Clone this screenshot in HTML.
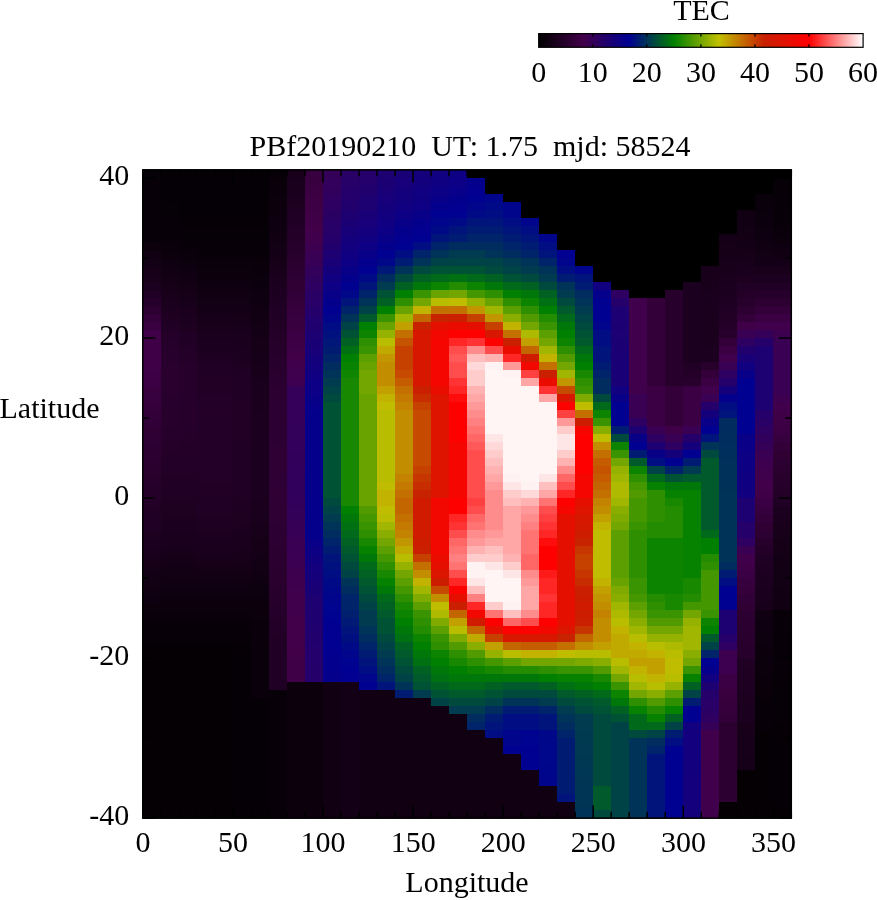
<!DOCTYPE html><html><head><meta charset="utf-8"><title>TEC</title><style>html,body{margin:0;padding:0;background:#fff}svg{display:block}text{font-family:"Liberation Serif",serif;font-size:30px;fill:#000}svg{will-change:transform}</style></head><body>
<svg width="877" height="900" viewBox="0 0 877 900">
<rect width="877" height="900" fill="#fff"/>
<g shape-rendering="crispEdges">
<rect x="142.1" y="169.2" width="649.9" height="649.5" fill="#000" shape-rendering="geometricPrecision"/>
<rect x="143" y="170" width="18" height="8" fill="#060007"/>
<rect x="143" y="178" width="18" height="8" fill="#070007"/>
<rect x="143" y="186" width="18" height="32" fill="#070008"/>
<rect x="143" y="218" width="18" height="8" fill="#080008"/>
<rect x="143" y="226" width="18" height="16" fill="#080009"/>
<rect x="143" y="242" width="18" height="8" fill="#0c000d"/>
<rect x="143" y="250" width="18" height="8" fill="#100012"/>
<rect x="143" y="258" width="18" height="8" fill="#120015"/>
<rect x="143" y="266" width="18" height="8" fill="#150018"/>
<rect x="143" y="274" width="18" height="8" fill="#18001b"/>
<rect x="143" y="282" width="18" height="8" fill="#1c001f"/>
<rect x="143" y="290" width="18" height="8" fill="#200024"/>
<rect x="143" y="298" width="18" height="8" fill="#26002b"/>
<rect x="143" y="306" width="18" height="8" fill="#2d0032"/>
<rect x="143" y="314" width="18" height="8" fill="#33003a"/>
<rect x="143" y="322" width="18" height="8" fill="#390040"/>
<rect x="143" y="330" width="18" height="40" fill="#3f0047"/>
<rect x="143" y="370" width="18" height="8" fill="#3d0045"/>
<rect x="143" y="378" width="18" height="8" fill="#3b0043"/>
<rect x="143" y="386" width="18" height="8" fill="#390040"/>
<rect x="143" y="394" width="18" height="8" fill="#37003e"/>
<rect x="143" y="402" width="18" height="8" fill="#35003c"/>
<rect x="143" y="410" width="18" height="8" fill="#33003a"/>
<rect x="143" y="418" width="18" height="8" fill="#320038"/>
<rect x="143" y="426" width="18" height="8" fill="#300035"/>
<rect x="143" y="434" width="18" height="8" fill="#2e0034"/>
<rect x="143" y="442" width="18" height="8" fill="#2d0032"/>
<rect x="143" y="450" width="18" height="8" fill="#2c0031"/>
<rect x="143" y="458" width="18" height="8" fill="#2a002f"/>
<rect x="143" y="466" width="18" height="8" fill="#29002e"/>
<rect x="143" y="474" width="18" height="8" fill="#28002c"/>
<rect x="143" y="482" width="18" height="8" fill="#26002b"/>
<rect x="143" y="490" width="18" height="8" fill="#250029"/>
<rect x="143" y="498" width="18" height="8" fill="#240028"/>
<rect x="143" y="506" width="18" height="8" fill="#220026"/>
<rect x="143" y="514" width="18" height="8" fill="#210025"/>
<rect x="143" y="522" width="18" height="8" fill="#200024"/>
<rect x="143" y="530" width="18" height="8" fill="#1e0021"/>
<rect x="143" y="538" width="18" height="8" fill="#1c001f"/>
<rect x="143" y="546" width="18" height="8" fill="#1a001d"/>
<rect x="143" y="554" width="18" height="8" fill="#18001b"/>
<rect x="143" y="562" width="18" height="8" fill="#160018"/>
<rect x="143" y="570" width="18" height="8" fill="#140016"/>
<rect x="143" y="578" width="18" height="8" fill="#120014"/>
<rect x="143" y="586" width="18" height="8" fill="#100012"/>
<rect x="143" y="594" width="18" height="8" fill="#0e0010"/>
<rect x="143" y="602" width="18" height="8" fill="#0c000d"/>
<rect x="143" y="610" width="18" height="8" fill="#0a000b"/>
<rect x="143" y="618" width="18" height="8" fill="#080009"/>
<rect x="143" y="626" width="18" height="8" fill="#070008"/>
<rect x="143" y="634" width="18" height="8" fill="#060007"/>
<rect x="143" y="642" width="18" height="8" fill="#050006"/>
<rect x="143" y="650" width="18" height="168" fill="#040004"/>
<rect x="161" y="170" width="18" height="8" fill="#040004"/>
<rect x="161" y="178" width="18" height="8" fill="#040005"/>
<rect x="161" y="186" width="18" height="16" fill="#050006"/>
<rect x="161" y="202" width="18" height="16" fill="#060007"/>
<rect x="161" y="218" width="18" height="16" fill="#070008"/>
<rect x="161" y="234" width="18" height="8" fill="#080009"/>
<rect x="161" y="242" width="18" height="8" fill="#0a000b"/>
<rect x="161" y="250" width="18" height="8" fill="#0c000d"/>
<rect x="161" y="258" width="18" height="8" fill="#0e0010"/>
<rect x="161" y="266" width="18" height="8" fill="#110013"/>
<rect x="161" y="274" width="18" height="8" fill="#130015"/>
<rect x="161" y="282" width="18" height="8" fill="#150018"/>
<rect x="161" y="290" width="18" height="8" fill="#18001b"/>
<rect x="161" y="298" width="18" height="8" fill="#1a001d"/>
<rect x="161" y="306" width="18" height="8" fill="#1d0020"/>
<rect x="161" y="314" width="18" height="8" fill="#1f0023"/>
<rect x="161" y="322" width="18" height="8" fill="#210025"/>
<rect x="161" y="330" width="18" height="8" fill="#240028"/>
<rect x="161" y="338" width="18" height="8" fill="#25002a"/>
<rect x="161" y="346" width="18" height="8" fill="#27002c"/>
<rect x="161" y="354" width="18" height="8" fill="#28002d"/>
<rect x="161" y="362" width="18" height="16" fill="#2a002f"/>
<rect x="161" y="378" width="18" height="16" fill="#29002e"/>
<rect x="161" y="394" width="18" height="16" fill="#28002d"/>
<rect x="161" y="410" width="18" height="8" fill="#28002c"/>
<rect x="161" y="418" width="18" height="8" fill="#27002c"/>
<rect x="161" y="426" width="18" height="8" fill="#26002b"/>
<rect x="161" y="434" width="18" height="8" fill="#26002a"/>
<rect x="161" y="442" width="18" height="8" fill="#250029"/>
<rect x="161" y="450" width="18" height="8" fill="#240029"/>
<rect x="161" y="458" width="18" height="8" fill="#230028"/>
<rect x="161" y="466" width="18" height="8" fill="#230027"/>
<rect x="161" y="474" width="18" height="8" fill="#220026"/>
<rect x="161" y="482" width="18" height="8" fill="#210025"/>
<rect x="161" y="490" width="18" height="8" fill="#200024"/>
<rect x="161" y="498" width="18" height="8" fill="#1f0023"/>
<rect x="161" y="506" width="18" height="8" fill="#1e0021"/>
<rect x="161" y="514" width="18" height="8" fill="#1d0020"/>
<rect x="161" y="522" width="18" height="8" fill="#1c001f"/>
<rect x="161" y="530" width="18" height="8" fill="#1a001d"/>
<rect x="161" y="538" width="18" height="8" fill="#19001c"/>
<rect x="161" y="546" width="18" height="8" fill="#17001a"/>
<rect x="161" y="554" width="18" height="8" fill="#150018"/>
<rect x="161" y="562" width="18" height="8" fill="#140016"/>
<rect x="161" y="570" width="18" height="8" fill="#120014"/>
<rect x="161" y="578" width="18" height="8" fill="#100012"/>
<rect x="161" y="586" width="18" height="8" fill="#0e0010"/>
<rect x="161" y="594" width="18" height="8" fill="#0d000e"/>
<rect x="161" y="602" width="18" height="8" fill="#0b000c"/>
<rect x="161" y="610" width="18" height="8" fill="#0a000b"/>
<rect x="161" y="618" width="18" height="8" fill="#080009"/>
<rect x="161" y="626" width="18" height="8" fill="#070008"/>
<rect x="161" y="634" width="18" height="8" fill="#060007"/>
<rect x="161" y="642" width="18" height="8" fill="#050006"/>
<rect x="161" y="650" width="18" height="168" fill="#040004"/>
<rect x="179" y="170" width="18" height="8" fill="#040004"/>
<rect x="179" y="178" width="18" height="8" fill="#040005"/>
<rect x="179" y="186" width="18" height="16" fill="#050005"/>
<rect x="179" y="202" width="18" height="16" fill="#050006"/>
<rect x="179" y="218" width="18" height="8" fill="#060006"/>
<rect x="179" y="226" width="18" height="16" fill="#060007"/>
<rect x="179" y="242" width="18" height="8" fill="#080009"/>
<rect x="179" y="250" width="18" height="8" fill="#0a000c"/>
<rect x="179" y="258" width="18" height="8" fill="#0d000e"/>
<rect x="179" y="266" width="18" height="8" fill="#0f0011"/>
<rect x="179" y="274" width="18" height="8" fill="#110013"/>
<rect x="179" y="282" width="18" height="8" fill="#130015"/>
<rect x="179" y="290" width="18" height="8" fill="#150018"/>
<rect x="179" y="298" width="18" height="8" fill="#17001a"/>
<rect x="179" y="306" width="18" height="8" fill="#1a001d"/>
<rect x="179" y="314" width="18" height="8" fill="#1c001f"/>
<rect x="179" y="322" width="18" height="8" fill="#1e0021"/>
<rect x="179" y="330" width="18" height="8" fill="#200024"/>
<rect x="179" y="338" width="18" height="8" fill="#210025"/>
<rect x="179" y="346" width="18" height="8" fill="#230027"/>
<rect x="179" y="354" width="18" height="8" fill="#240029"/>
<rect x="179" y="362" width="18" height="56" fill="#26002b"/>
<rect x="179" y="418" width="18" height="8" fill="#26002a"/>
<rect x="179" y="426" width="18" height="8" fill="#25002a"/>
<rect x="179" y="434" width="18" height="8" fill="#250029"/>
<rect x="179" y="442" width="18" height="16" fill="#240028"/>
<rect x="179" y="458" width="18" height="16" fill="#230027"/>
<rect x="179" y="474" width="18" height="8" fill="#220026"/>
<rect x="179" y="482" width="18" height="8" fill="#210025"/>
<rect x="179" y="490" width="18" height="8" fill="#200024"/>
<rect x="179" y="498" width="18" height="8" fill="#1f0023"/>
<rect x="179" y="506" width="18" height="8" fill="#1e0021"/>
<rect x="179" y="514" width="18" height="8" fill="#1d0020"/>
<rect x="179" y="522" width="18" height="8" fill="#1c001f"/>
<rect x="179" y="530" width="18" height="8" fill="#1a001d"/>
<rect x="179" y="538" width="18" height="8" fill="#19001c"/>
<rect x="179" y="546" width="18" height="8" fill="#17001a"/>
<rect x="179" y="554" width="18" height="8" fill="#150018"/>
<rect x="179" y="562" width="18" height="8" fill="#140016"/>
<rect x="179" y="570" width="18" height="8" fill="#120014"/>
<rect x="179" y="578" width="18" height="8" fill="#100012"/>
<rect x="179" y="586" width="18" height="8" fill="#0e0010"/>
<rect x="179" y="594" width="18" height="8" fill="#0d000e"/>
<rect x="179" y="602" width="18" height="8" fill="#0b000c"/>
<rect x="179" y="610" width="18" height="8" fill="#0a000b"/>
<rect x="179" y="618" width="18" height="8" fill="#080009"/>
<rect x="179" y="626" width="18" height="8" fill="#070008"/>
<rect x="179" y="634" width="18" height="8" fill="#060007"/>
<rect x="179" y="642" width="18" height="8" fill="#050006"/>
<rect x="179" y="650" width="18" height="168" fill="#040004"/>
<rect x="197" y="170" width="18" height="8" fill="#040004"/>
<rect x="197" y="178" width="18" height="8" fill="#040005"/>
<rect x="197" y="186" width="18" height="16" fill="#050005"/>
<rect x="197" y="202" width="18" height="16" fill="#050006"/>
<rect x="197" y="218" width="18" height="8" fill="#060006"/>
<rect x="197" y="226" width="18" height="16" fill="#060007"/>
<rect x="197" y="242" width="18" height="8" fill="#070008"/>
<rect x="197" y="250" width="18" height="8" fill="#080009"/>
<rect x="197" y="258" width="18" height="8" fill="#0a000b"/>
<rect x="197" y="266" width="18" height="8" fill="#0b000c"/>
<rect x="197" y="274" width="18" height="8" fill="#0d000e"/>
<rect x="197" y="282" width="18" height="8" fill="#0e0010"/>
<rect x="197" y="290" width="18" height="8" fill="#100012"/>
<rect x="197" y="298" width="18" height="8" fill="#120014"/>
<rect x="197" y="306" width="18" height="8" fill="#140016"/>
<rect x="197" y="314" width="18" height="8" fill="#160019"/>
<rect x="197" y="322" width="18" height="8" fill="#18001b"/>
<rect x="197" y="330" width="18" height="8" fill="#1a001d"/>
<rect x="197" y="338" width="18" height="8" fill="#1c001f"/>
<rect x="197" y="346" width="18" height="8" fill="#1d0021"/>
<rect x="197" y="354" width="18" height="8" fill="#1e0022"/>
<rect x="197" y="362" width="18" height="8" fill="#200024"/>
<rect x="197" y="370" width="18" height="8" fill="#210025"/>
<rect x="197" y="378" width="18" height="16" fill="#220026"/>
<rect x="197" y="394" width="18" height="16" fill="#230027"/>
<rect x="197" y="410" width="18" height="8" fill="#240028"/>
<rect x="197" y="418" width="18" height="16" fill="#230028"/>
<rect x="197" y="434" width="18" height="40" fill="#230027"/>
<rect x="197" y="474" width="18" height="8" fill="#220027"/>
<rect x="197" y="482" width="18" height="16" fill="#220026"/>
<rect x="197" y="498" width="18" height="8" fill="#210025"/>
<rect x="197" y="506" width="18" height="8" fill="#200024"/>
<rect x="197" y="514" width="18" height="8" fill="#1f0023"/>
<rect x="197" y="522" width="18" height="8" fill="#1e0022"/>
<rect x="197" y="530" width="18" height="8" fill="#1d0020"/>
<rect x="197" y="538" width="18" height="8" fill="#1b001e"/>
<rect x="197" y="546" width="18" height="8" fill="#19001c"/>
<rect x="197" y="554" width="18" height="8" fill="#18001b"/>
<rect x="197" y="562" width="18" height="8" fill="#150018"/>
<rect x="197" y="570" width="18" height="8" fill="#130015"/>
<rect x="197" y="578" width="18" height="8" fill="#110013"/>
<rect x="197" y="586" width="18" height="8" fill="#0e0010"/>
<rect x="197" y="594" width="18" height="8" fill="#0d000e"/>
<rect x="197" y="602" width="18" height="8" fill="#0b000c"/>
<rect x="197" y="610" width="18" height="8" fill="#0a000b"/>
<rect x="197" y="618" width="18" height="8" fill="#080009"/>
<rect x="197" y="626" width="18" height="8" fill="#070008"/>
<rect x="197" y="634" width="18" height="8" fill="#060007"/>
<rect x="197" y="642" width="18" height="8" fill="#050006"/>
<rect x="197" y="650" width="18" height="168" fill="#040004"/>
<rect x="215" y="170" width="18" height="8" fill="#040004"/>
<rect x="215" y="178" width="18" height="8" fill="#040005"/>
<rect x="215" y="186" width="18" height="16" fill="#050005"/>
<rect x="215" y="202" width="18" height="16" fill="#050006"/>
<rect x="215" y="218" width="18" height="8" fill="#060006"/>
<rect x="215" y="226" width="18" height="16" fill="#060007"/>
<rect x="215" y="242" width="18" height="8" fill="#070008"/>
<rect x="215" y="250" width="18" height="8" fill="#080009"/>
<rect x="215" y="258" width="18" height="8" fill="#0a000b"/>
<rect x="215" y="266" width="18" height="8" fill="#0b000c"/>
<rect x="215" y="274" width="18" height="8" fill="#0d000e"/>
<rect x="215" y="282" width="18" height="8" fill="#0e0010"/>
<rect x="215" y="290" width="18" height="8" fill="#100012"/>
<rect x="215" y="298" width="18" height="8" fill="#120014"/>
<rect x="215" y="306" width="18" height="8" fill="#140016"/>
<rect x="215" y="314" width="18" height="8" fill="#160019"/>
<rect x="215" y="322" width="18" height="8" fill="#18001b"/>
<rect x="215" y="330" width="18" height="8" fill="#1a001d"/>
<rect x="215" y="338" width="18" height="8" fill="#1c001f"/>
<rect x="215" y="346" width="18" height="8" fill="#1d0021"/>
<rect x="215" y="354" width="18" height="8" fill="#1e0022"/>
<rect x="215" y="362" width="18" height="8" fill="#200024"/>
<rect x="215" y="370" width="18" height="8" fill="#210025"/>
<rect x="215" y="378" width="18" height="16" fill="#220026"/>
<rect x="215" y="394" width="18" height="16" fill="#230027"/>
<rect x="215" y="410" width="18" height="8" fill="#240028"/>
<rect x="215" y="418" width="18" height="16" fill="#230028"/>
<rect x="215" y="434" width="18" height="40" fill="#230027"/>
<rect x="215" y="474" width="18" height="8" fill="#220027"/>
<rect x="215" y="482" width="18" height="16" fill="#220026"/>
<rect x="215" y="498" width="18" height="8" fill="#210025"/>
<rect x="215" y="506" width="18" height="8" fill="#200024"/>
<rect x="215" y="514" width="18" height="8" fill="#1f0023"/>
<rect x="215" y="522" width="18" height="8" fill="#1e0022"/>
<rect x="215" y="530" width="18" height="8" fill="#1d0020"/>
<rect x="215" y="538" width="18" height="8" fill="#1b001e"/>
<rect x="215" y="546" width="18" height="8" fill="#19001c"/>
<rect x="215" y="554" width="18" height="8" fill="#18001b"/>
<rect x="215" y="562" width="18" height="8" fill="#150018"/>
<rect x="215" y="570" width="18" height="8" fill="#130015"/>
<rect x="215" y="578" width="18" height="8" fill="#110013"/>
<rect x="215" y="586" width="18" height="8" fill="#0e0010"/>
<rect x="215" y="594" width="18" height="8" fill="#0d000e"/>
<rect x="215" y="602" width="18" height="8" fill="#0b000c"/>
<rect x="215" y="610" width="18" height="8" fill="#0a000b"/>
<rect x="215" y="618" width="18" height="8" fill="#080009"/>
<rect x="215" y="626" width="18" height="8" fill="#070008"/>
<rect x="215" y="634" width="18" height="8" fill="#060007"/>
<rect x="215" y="642" width="18" height="8" fill="#050006"/>
<rect x="215" y="650" width="18" height="168" fill="#040004"/>
<rect x="233" y="170" width="18" height="8" fill="#040004"/>
<rect x="233" y="178" width="18" height="8" fill="#040005"/>
<rect x="233" y="186" width="18" height="16" fill="#050005"/>
<rect x="233" y="202" width="18" height="16" fill="#050006"/>
<rect x="233" y="218" width="18" height="8" fill="#060006"/>
<rect x="233" y="226" width="18" height="16" fill="#060007"/>
<rect x="233" y="242" width="18" height="8" fill="#070008"/>
<rect x="233" y="250" width="18" height="8" fill="#080009"/>
<rect x="233" y="258" width="18" height="8" fill="#0a000b"/>
<rect x="233" y="266" width="18" height="8" fill="#0b000c"/>
<rect x="233" y="274" width="18" height="8" fill="#0d000e"/>
<rect x="233" y="282" width="18" height="8" fill="#0e0010"/>
<rect x="233" y="290" width="18" height="8" fill="#100012"/>
<rect x="233" y="298" width="18" height="8" fill="#120014"/>
<rect x="233" y="306" width="18" height="8" fill="#130016"/>
<rect x="233" y="314" width="18" height="8" fill="#150018"/>
<rect x="233" y="322" width="18" height="8" fill="#17001a"/>
<rect x="233" y="330" width="18" height="8" fill="#19001c"/>
<rect x="233" y="338" width="18" height="8" fill="#1a001d"/>
<rect x="233" y="346" width="18" height="8" fill="#1b001f"/>
<rect x="233" y="354" width="18" height="8" fill="#1d0020"/>
<rect x="233" y="362" width="18" height="8" fill="#1e0022"/>
<rect x="233" y="370" width="18" height="16" fill="#200024"/>
<rect x="233" y="386" width="18" height="16" fill="#210025"/>
<rect x="233" y="402" width="18" height="40" fill="#220026"/>
<rect x="233" y="442" width="18" height="48" fill="#210025"/>
<rect x="233" y="490" width="18" height="8" fill="#200024"/>
<rect x="233" y="498" width="18" height="8" fill="#1f0023"/>
<rect x="233" y="506" width="18" height="8" fill="#1e0022"/>
<rect x="233" y="514" width="18" height="8" fill="#1e0021"/>
<rect x="233" y="522" width="18" height="8" fill="#1d0020"/>
<rect x="233" y="530" width="18" height="8" fill="#1b001e"/>
<rect x="233" y="538" width="18" height="8" fill="#1a001d"/>
<rect x="233" y="546" width="18" height="8" fill="#18001b"/>
<rect x="233" y="554" width="18" height="8" fill="#17001a"/>
<rect x="233" y="562" width="18" height="8" fill="#150017"/>
<rect x="233" y="570" width="18" height="8" fill="#130015"/>
<rect x="233" y="578" width="18" height="8" fill="#100012"/>
<rect x="233" y="586" width="18" height="8" fill="#0e0010"/>
<rect x="233" y="594" width="18" height="8" fill="#0d000e"/>
<rect x="233" y="602" width="18" height="8" fill="#0b000c"/>
<rect x="233" y="610" width="18" height="8" fill="#0a000b"/>
<rect x="233" y="618" width="18" height="8" fill="#080009"/>
<rect x="233" y="626" width="18" height="8" fill="#070008"/>
<rect x="233" y="634" width="18" height="8" fill="#060007"/>
<rect x="233" y="642" width="18" height="8" fill="#060006"/>
<rect x="233" y="650" width="18" height="168" fill="#050005"/>
<rect x="251" y="170" width="18" height="8" fill="#040004"/>
<rect x="251" y="178" width="18" height="8" fill="#040005"/>
<rect x="251" y="186" width="18" height="16" fill="#050005"/>
<rect x="251" y="202" width="18" height="16" fill="#050006"/>
<rect x="251" y="218" width="18" height="8" fill="#060006"/>
<rect x="251" y="226" width="18" height="16" fill="#060007"/>
<rect x="251" y="242" width="18" height="8" fill="#070008"/>
<rect x="251" y="250" width="18" height="8" fill="#080009"/>
<rect x="251" y="258" width="18" height="8" fill="#09000a"/>
<rect x="251" y="266" width="18" height="8" fill="#0a000c"/>
<rect x="251" y="274" width="18" height="8" fill="#0b000d"/>
<rect x="251" y="282" width="18" height="8" fill="#0d000e"/>
<rect x="251" y="290" width="18" height="8" fill="#0e0010"/>
<rect x="251" y="298" width="18" height="8" fill="#0f0011"/>
<rect x="251" y="306" width="18" height="8" fill="#100012"/>
<rect x="251" y="314" width="18" height="8" fill="#110014"/>
<rect x="251" y="322" width="18" height="8" fill="#130015"/>
<rect x="251" y="330" width="18" height="8" fill="#140016"/>
<rect x="251" y="338" width="18" height="8" fill="#150017"/>
<rect x="251" y="346" width="18" height="8" fill="#150018"/>
<rect x="251" y="354" width="18" height="8" fill="#160019"/>
<rect x="251" y="362" width="18" height="8" fill="#17001a"/>
<rect x="251" y="370" width="18" height="8" fill="#18001b"/>
<rect x="251" y="378" width="18" height="16" fill="#19001c"/>
<rect x="251" y="394" width="18" height="8" fill="#1a001d"/>
<rect x="251" y="402" width="18" height="8" fill="#1b001e"/>
<rect x="251" y="410" width="18" height="88" fill="#1c001f"/>
<rect x="251" y="498" width="18" height="8" fill="#1b001e"/>
<rect x="251" y="506" width="18" height="8" fill="#1a001d"/>
<rect x="251" y="514" width="18" height="8" fill="#19001c"/>
<rect x="251" y="522" width="18" height="8" fill="#18001b"/>
<rect x="251" y="530" width="18" height="8" fill="#17001a"/>
<rect x="251" y="538" width="18" height="8" fill="#160018"/>
<rect x="251" y="546" width="18" height="8" fill="#150017"/>
<rect x="251" y="554" width="18" height="8" fill="#140016"/>
<rect x="251" y="562" width="18" height="8" fill="#120014"/>
<rect x="251" y="570" width="18" height="8" fill="#110013"/>
<rect x="251" y="578" width="18" height="8" fill="#0f0011"/>
<rect x="251" y="586" width="18" height="8" fill="#0d000f"/>
<rect x="251" y="594" width="18" height="8" fill="#0d000e"/>
<rect x="251" y="602" width="18" height="8" fill="#0c000d"/>
<rect x="251" y="610" width="18" height="8" fill="#0b000c"/>
<rect x="251" y="618" width="18" height="80" fill="#0a000c"/>
<rect x="251" y="698" width="18" height="120" fill="#050005"/>
<rect x="269" y="170" width="18" height="8" fill="#080009"/>
<rect x="269" y="178" width="18" height="8" fill="#09000a"/>
<rect x="269" y="186" width="18" height="8" fill="#0a000b"/>
<rect x="269" y="194" width="18" height="8" fill="#0b000c"/>
<rect x="269" y="202" width="18" height="8" fill="#0c000d"/>
<rect x="269" y="210" width="18" height="8" fill="#0d000e"/>
<rect x="269" y="218" width="18" height="8" fill="#0e0010"/>
<rect x="269" y="226" width="18" height="8" fill="#0f0011"/>
<rect x="269" y="234" width="18" height="8" fill="#100012"/>
<rect x="269" y="242" width="18" height="8" fill="#120014"/>
<rect x="269" y="250" width="18" height="8" fill="#140016"/>
<rect x="269" y="258" width="18" height="8" fill="#160018"/>
<rect x="269" y="266" width="18" height="8" fill="#18001b"/>
<rect x="269" y="274" width="18" height="8" fill="#1a001d"/>
<rect x="269" y="282" width="18" height="8" fill="#1c001f"/>
<rect x="269" y="290" width="18" height="8" fill="#1d0021"/>
<rect x="269" y="298" width="18" height="8" fill="#1e0022"/>
<rect x="269" y="306" width="18" height="8" fill="#200024"/>
<rect x="269" y="314" width="18" height="8" fill="#210025"/>
<rect x="269" y="322" width="18" height="8" fill="#220026"/>
<rect x="269" y="330" width="18" height="8" fill="#240028"/>
<rect x="269" y="338" width="18" height="8" fill="#250029"/>
<rect x="269" y="346" width="18" height="8" fill="#26002a"/>
<rect x="269" y="354" width="18" height="8" fill="#27002c"/>
<rect x="269" y="362" width="18" height="8" fill="#28002d"/>
<rect x="269" y="370" width="18" height="8" fill="#29002e"/>
<rect x="269" y="378" width="18" height="8" fill="#2a0030"/>
<rect x="269" y="386" width="18" height="16" fill="#2c0031"/>
<rect x="269" y="402" width="18" height="16" fill="#2c0032"/>
<rect x="269" y="418" width="18" height="8" fill="#2d0032"/>
<rect x="269" y="426" width="18" height="16" fill="#2d0033"/>
<rect x="269" y="442" width="18" height="8" fill="#2e0033"/>
<rect x="269" y="450" width="18" height="16" fill="#2e0034"/>
<rect x="269" y="466" width="18" height="8" fill="#2f0034"/>
<rect x="269" y="474" width="18" height="16" fill="#2f0035"/>
<rect x="269" y="490" width="18" height="8" fill="#300035"/>
<rect x="269" y="498" width="18" height="8" fill="#2f0035"/>
<rect x="269" y="506" width="18" height="8" fill="#2e0034"/>
<rect x="269" y="514" width="18" height="8" fill="#2e0033"/>
<rect x="269" y="522" width="18" height="8" fill="#2d0033"/>
<rect x="269" y="530" width="18" height="8" fill="#2c0032"/>
<rect x="269" y="538" width="18" height="8" fill="#2c0031"/>
<rect x="269" y="546" width="18" height="8" fill="#2b0031"/>
<rect x="269" y="554" width="18" height="8" fill="#2b0030"/>
<rect x="269" y="562" width="18" height="8" fill="#2a002f"/>
<rect x="269" y="570" width="18" height="16" fill="#29002e"/>
<rect x="269" y="586" width="18" height="8" fill="#28002d"/>
<rect x="269" y="594" width="18" height="8" fill="#28002c"/>
<rect x="269" y="602" width="18" height="8" fill="#26002b"/>
<rect x="269" y="610" width="18" height="8" fill="#25002a"/>
<rect x="269" y="618" width="18" height="8" fill="#240029"/>
<rect x="269" y="626" width="18" height="8" fill="#230027"/>
<rect x="269" y="634" width="18" height="8" fill="#220026"/>
<rect x="269" y="642" width="18" height="8" fill="#210025"/>
<rect x="269" y="650" width="18" height="40" fill="#200024"/>
<rect x="269" y="690" width="18" height="128" fill="#080009"/>
<rect x="287" y="170" width="18" height="8" fill="#18001b"/>
<rect x="287" y="178" width="18" height="8" fill="#19001c"/>
<rect x="287" y="186" width="18" height="8" fill="#1b001e"/>
<rect x="287" y="194" width="18" height="8" fill="#1d0020"/>
<rect x="287" y="202" width="18" height="8" fill="#1e0022"/>
<rect x="287" y="210" width="18" height="8" fill="#200024"/>
<rect x="287" y="218" width="18" height="8" fill="#210025"/>
<rect x="287" y="226" width="18" height="8" fill="#230027"/>
<rect x="287" y="234" width="18" height="8" fill="#240029"/>
<rect x="287" y="242" width="18" height="8" fill="#26002b"/>
<rect x="287" y="250" width="18" height="8" fill="#28002c"/>
<rect x="287" y="258" width="18" height="8" fill="#2a002f"/>
<rect x="287" y="266" width="18" height="8" fill="#2c0031"/>
<rect x="287" y="274" width="18" height="8" fill="#2e0033"/>
<rect x="287" y="282" width="18" height="8" fill="#300035"/>
<rect x="287" y="290" width="18" height="8" fill="#320038"/>
<rect x="287" y="298" width="18" height="8" fill="#33003a"/>
<rect x="287" y="306" width="18" height="8" fill="#35003c"/>
<rect x="287" y="314" width="18" height="8" fill="#37003e"/>
<rect x="287" y="322" width="18" height="8" fill="#390040"/>
<rect x="287" y="330" width="18" height="8" fill="#3b0043"/>
<rect x="287" y="338" width="18" height="8" fill="#3d0045"/>
<rect x="287" y="346" width="18" height="8" fill="#3f0047"/>
<rect x="287" y="354" width="18" height="8" fill="#410049"/>
<rect x="287" y="362" width="18" height="8" fill="#41004b"/>
<rect x="287" y="370" width="18" height="8" fill="#3f004e"/>
<rect x="287" y="378" width="18" height="8" fill="#3d0050"/>
<rect x="287" y="386" width="18" height="8" fill="#350058"/>
<rect x="287" y="394" width="18" height="24" fill="#340059"/>
<rect x="287" y="418" width="18" height="8" fill="#34005a"/>
<rect x="287" y="426" width="18" height="16" fill="#33005a"/>
<rect x="287" y="442" width="18" height="8" fill="#33005b"/>
<rect x="287" y="450" width="18" height="16" fill="#32005b"/>
<rect x="287" y="466" width="18" height="8" fill="#32005c"/>
<rect x="287" y="474" width="18" height="16" fill="#31005c"/>
<rect x="287" y="490" width="18" height="8" fill="#31005d"/>
<rect x="287" y="498" width="18" height="8" fill="#32005b"/>
<rect x="287" y="506" width="18" height="8" fill="#33005a"/>
<rect x="287" y="514" width="18" height="8" fill="#350058"/>
<rect x="287" y="522" width="18" height="8" fill="#360057"/>
<rect x="287" y="530" width="18" height="8" fill="#370056"/>
<rect x="287" y="538" width="18" height="8" fill="#390054"/>
<rect x="287" y="546" width="18" height="8" fill="#3a0053"/>
<rect x="287" y="554" width="18" height="8" fill="#3b0052"/>
<rect x="287" y="562" width="18" height="8" fill="#3c0050"/>
<rect x="287" y="570" width="18" height="8" fill="#3d004f"/>
<rect x="287" y="578" width="18" height="8" fill="#3e004e"/>
<rect x="287" y="586" width="18" height="8" fill="#40004d"/>
<rect x="287" y="594" width="18" height="24" fill="#41004b"/>
<rect x="287" y="618" width="18" height="16" fill="#42004a"/>
<rect x="287" y="634" width="18" height="16" fill="#410049"/>
<rect x="287" y="650" width="18" height="8" fill="#410048"/>
<rect x="287" y="658" width="18" height="8" fill="#400048"/>
<rect x="287" y="666" width="18" height="8" fill="#400047"/>
<rect x="287" y="674" width="18" height="8" fill="#3f0047"/>
<rect x="287" y="682" width="18" height="136" fill="#0c000d"/>
<rect x="305" y="170" width="18" height="8" fill="#37003e"/>
<rect x="305" y="178" width="18" height="8" fill="#390040"/>
<rect x="305" y="186" width="18" height="8" fill="#3a0041"/>
<rect x="305" y="194" width="18" height="8" fill="#3c0043"/>
<rect x="305" y="202" width="18" height="8" fill="#3d0045"/>
<rect x="305" y="210" width="18" height="8" fill="#3f0046"/>
<rect x="305" y="218" width="18" height="8" fill="#400048"/>
<rect x="305" y="226" width="18" height="8" fill="#42004a"/>
<rect x="305" y="234" width="18" height="8" fill="#41004b"/>
<rect x="305" y="242" width="18" height="8" fill="#3d004f"/>
<rect x="305" y="250" width="18" height="8" fill="#3a0053"/>
<rect x="305" y="258" width="18" height="8" fill="#370056"/>
<rect x="305" y="266" width="18" height="8" fill="#33005a"/>
<rect x="305" y="274" width="18" height="8" fill="#30005d"/>
<rect x="305" y="282" width="18" height="8" fill="#2d0061"/>
<rect x="305" y="290" width="18" height="8" fill="#2a0064"/>
<rect x="305" y="298" width="18" height="8" fill="#280067"/>
<rect x="305" y="306" width="18" height="8" fill="#25006a"/>
<rect x="305" y="314" width="18" height="8" fill="#22006d"/>
<rect x="305" y="322" width="18" height="8" fill="#20006f"/>
<rect x="305" y="330" width="18" height="8" fill="#1d0072"/>
<rect x="305" y="338" width="18" height="8" fill="#1a0075"/>
<rect x="305" y="346" width="18" height="8" fill="#180078"/>
<rect x="305" y="354" width="18" height="8" fill="#15007b"/>
<rect x="305" y="362" width="18" height="8" fill="#12007e"/>
<rect x="305" y="370" width="18" height="8" fill="#100081"/>
<rect x="305" y="378" width="18" height="8" fill="#0d0084"/>
<rect x="305" y="386" width="18" height="8" fill="#0b0086"/>
<rect x="305" y="394" width="18" height="8" fill="#090088"/>
<rect x="305" y="402" width="18" height="8" fill="#07008a"/>
<rect x="305" y="410" width="18" height="128" fill="#05008c"/>
<rect x="305" y="538" width="18" height="8" fill="#080089"/>
<rect x="305" y="546" width="18" height="8" fill="#0c0085"/>
<rect x="305" y="554" width="18" height="8" fill="#0f0082"/>
<rect x="305" y="562" width="18" height="8" fill="#12007e"/>
<rect x="305" y="570" width="18" height="8" fill="#15007b"/>
<rect x="305" y="578" width="18" height="8" fill="#180078"/>
<rect x="305" y="586" width="18" height="8" fill="#1a0075"/>
<rect x="305" y="594" width="18" height="8" fill="#1d0072"/>
<rect x="305" y="602" width="18" height="8" fill="#1e0071"/>
<rect x="305" y="610" width="18" height="8" fill="#1f0071"/>
<rect x="305" y="618" width="18" height="8" fill="#1f0070"/>
<rect x="305" y="626" width="18" height="8" fill="#20006f"/>
<rect x="305" y="634" width="18" height="8" fill="#21006e"/>
<rect x="305" y="642" width="18" height="8" fill="#22006d"/>
<rect x="305" y="650" width="18" height="8" fill="#23006c"/>
<rect x="305" y="658" width="18" height="8" fill="#23006b"/>
<rect x="305" y="666" width="18" height="8" fill="#24006b"/>
<rect x="305" y="674" width="18" height="8" fill="#25006a"/>
<rect x="305" y="682" width="18" height="136" fill="#0c000d"/>
<rect x="323" y="170" width="18" height="8" fill="#350058"/>
<rect x="323" y="178" width="18" height="8" fill="#33005b"/>
<rect x="323" y="186" width="18" height="8" fill="#31005d"/>
<rect x="323" y="194" width="18" height="8" fill="#2f005f"/>
<rect x="323" y="202" width="18" height="8" fill="#2d0061"/>
<rect x="323" y="210" width="18" height="8" fill="#2b0063"/>
<rect x="323" y="218" width="18" height="8" fill="#290065"/>
<rect x="323" y="226" width="18" height="8" fill="#270068"/>
<rect x="323" y="234" width="18" height="8" fill="#25006a"/>
<rect x="323" y="242" width="18" height="8" fill="#21006e"/>
<rect x="323" y="250" width="18" height="8" fill="#1d0072"/>
<rect x="323" y="258" width="18" height="8" fill="#190077"/>
<rect x="323" y="266" width="18" height="8" fill="#15007b"/>
<rect x="323" y="274" width="18" height="8" fill="#11007f"/>
<rect x="323" y="282" width="18" height="8" fill="#0d0084"/>
<rect x="323" y="290" width="18" height="8" fill="#090088"/>
<rect x="323" y="298" width="18" height="8" fill="#05008c"/>
<rect x="323" y="306" width="18" height="8" fill="#010091"/>
<rect x="323" y="314" width="18" height="8" fill="#00058c"/>
<rect x="323" y="322" width="18" height="8" fill="#000b86"/>
<rect x="323" y="330" width="18" height="8" fill="#00117f"/>
<rect x="323" y="338" width="18" height="8" fill="#001678"/>
<rect x="323" y="346" width="18" height="8" fill="#001c72"/>
<rect x="323" y="354" width="18" height="8" fill="#002469"/>
<rect x="323" y="362" width="18" height="8" fill="#002c60"/>
<rect x="323" y="370" width="18" height="8" fill="#003358"/>
<rect x="323" y="378" width="18" height="8" fill="#003b4f"/>
<rect x="323" y="386" width="18" height="8" fill="#004346"/>
<rect x="323" y="394" width="18" height="8" fill="#004a3d"/>
<rect x="323" y="402" width="18" height="96" fill="#005235"/>
<rect x="323" y="498" width="18" height="8" fill="#004a3d"/>
<rect x="323" y="506" width="18" height="8" fill="#004346"/>
<rect x="323" y="514" width="18" height="8" fill="#003b4f"/>
<rect x="323" y="522" width="18" height="8" fill="#003358"/>
<rect x="323" y="530" width="18" height="8" fill="#002c60"/>
<rect x="323" y="538" width="18" height="8" fill="#002469"/>
<rect x="323" y="546" width="18" height="8" fill="#001c72"/>
<rect x="323" y="554" width="18" height="8" fill="#00147b"/>
<rect x="323" y="562" width="18" height="8" fill="#00117f"/>
<rect x="323" y="570" width="18" height="8" fill="#000d83"/>
<rect x="323" y="578" width="18" height="8" fill="#000a86"/>
<rect x="323" y="586" width="18" height="8" fill="#000889"/>
<rect x="323" y="594" width="18" height="8" fill="#00058c"/>
<rect x="323" y="602" width="18" height="8" fill="#00048e"/>
<rect x="323" y="610" width="18" height="8" fill="#000290"/>
<rect x="323" y="618" width="18" height="8" fill="#000191"/>
<rect x="323" y="626" width="18" height="16" fill="#010091"/>
<rect x="323" y="642" width="18" height="8" fill="#020090"/>
<rect x="323" y="650" width="18" height="8" fill="#03008f"/>
<rect x="323" y="658" width="18" height="8" fill="#04008e"/>
<rect x="323" y="666" width="18" height="8" fill="#04008d"/>
<rect x="323" y="674" width="18" height="8" fill="#05008c"/>
<rect x="323" y="682" width="18" height="136" fill="#100012"/>
<rect x="341" y="170" width="18" height="8" fill="#290065"/>
<rect x="341" y="178" width="18" height="8" fill="#270068"/>
<rect x="341" y="186" width="18" height="8" fill="#25006a"/>
<rect x="341" y="194" width="18" height="8" fill="#23006c"/>
<rect x="341" y="202" width="18" height="8" fill="#21006e"/>
<rect x="341" y="210" width="18" height="8" fill="#1e0071"/>
<rect x="341" y="218" width="18" height="8" fill="#1b0074"/>
<rect x="341" y="226" width="18" height="8" fill="#180078"/>
<rect x="341" y="234" width="18" height="8" fill="#15007b"/>
<rect x="341" y="242" width="18" height="8" fill="#12007e"/>
<rect x="341" y="250" width="18" height="8" fill="#100081"/>
<rect x="341" y="258" width="18" height="8" fill="#0d0084"/>
<rect x="341" y="266" width="18" height="8" fill="#090088"/>
<rect x="341" y="274" width="18" height="8" fill="#05008c"/>
<rect x="341" y="282" width="18" height="8" fill="#000191"/>
<rect x="341" y="290" width="18" height="8" fill="#000889"/>
<rect x="341" y="298" width="18" height="8" fill="#00147b"/>
<rect x="341" y="306" width="18" height="8" fill="#002469"/>
<rect x="341" y="314" width="18" height="8" fill="#003358"/>
<rect x="341" y="322" width="18" height="8" fill="#004346"/>
<rect x="341" y="330" width="18" height="8" fill="#005235"/>
<rect x="341" y="338" width="18" height="8" fill="#006123"/>
<rect x="341" y="346" width="18" height="8" fill="#007112"/>
<rect x="341" y="354" width="18" height="8" fill="#008000"/>
<rect x="341" y="362" width="18" height="8" fill="#088300"/>
<rect x="341" y="370" width="18" height="8" fill="#0f8500"/>
<rect x="341" y="378" width="18" height="128" fill="#178800"/>
<rect x="341" y="506" width="18" height="8" fill="#008000"/>
<rect x="341" y="514" width="18" height="8" fill="#007809"/>
<rect x="341" y="522" width="18" height="8" fill="#007112"/>
<rect x="341" y="530" width="18" height="8" fill="#00691a"/>
<rect x="341" y="538" width="18" height="8" fill="#006123"/>
<rect x="341" y="546" width="18" height="8" fill="#005a2c"/>
<rect x="341" y="554" width="18" height="8" fill="#005235"/>
<rect x="341" y="562" width="18" height="8" fill="#004a3d"/>
<rect x="341" y="570" width="18" height="8" fill="#004346"/>
<rect x="341" y="578" width="18" height="8" fill="#003358"/>
<rect x="341" y="586" width="18" height="8" fill="#002c60"/>
<rect x="341" y="594" width="18" height="16" fill="#002469"/>
<rect x="341" y="610" width="18" height="8" fill="#001f6f"/>
<rect x="341" y="618" width="18" height="8" fill="#001a75"/>
<rect x="341" y="626" width="18" height="8" fill="#00147b"/>
<rect x="341" y="634" width="18" height="8" fill="#000f80"/>
<rect x="341" y="642" width="18" height="8" fill="#000a86"/>
<rect x="341" y="650" width="18" height="8" fill="#00058c"/>
<rect x="341" y="658" width="18" height="8" fill="#00038f"/>
<rect x="341" y="666" width="18" height="8" fill="#000092"/>
<rect x="341" y="674" width="18" height="8" fill="#010091"/>
<rect x="341" y="682" width="18" height="136" fill="#140016"/>
<rect x="359" y="170" width="18" height="8" fill="#25006a"/>
<rect x="359" y="178" width="18" height="8" fill="#23006c"/>
<rect x="359" y="186" width="18" height="8" fill="#21006e"/>
<rect x="359" y="194" width="18" height="8" fill="#1f0070"/>
<rect x="359" y="202" width="18" height="8" fill="#1d0072"/>
<rect x="359" y="210" width="18" height="8" fill="#1a0076"/>
<rect x="359" y="218" width="18" height="8" fill="#170079"/>
<rect x="359" y="226" width="18" height="8" fill="#14007c"/>
<rect x="359" y="234" width="18" height="8" fill="#11007f"/>
<rect x="359" y="242" width="18" height="8" fill="#0d0084"/>
<rect x="359" y="250" width="18" height="8" fill="#090088"/>
<rect x="359" y="258" width="18" height="8" fill="#04008d"/>
<rect x="359" y="266" width="18" height="8" fill="#000191"/>
<rect x="359" y="274" width="18" height="8" fill="#000a87"/>
<rect x="359" y="282" width="18" height="8" fill="#00147b"/>
<rect x="359" y="290" width="18" height="8" fill="#002469"/>
<rect x="359" y="298" width="18" height="8" fill="#003358"/>
<rect x="359" y="306" width="18" height="8" fill="#004346"/>
<rect x="359" y="314" width="18" height="8" fill="#005a2c"/>
<rect x="359" y="322" width="18" height="8" fill="#008000"/>
<rect x="359" y="330" width="18" height="8" fill="#0c8400"/>
<rect x="359" y="338" width="18" height="8" fill="#2e8f00"/>
<rect x="359" y="346" width="18" height="8" fill="#3a9300"/>
<rect x="359" y="354" width="18" height="8" fill="#5c9f00"/>
<rect x="359" y="362" width="18" height="8" fill="#68a300"/>
<rect x="359" y="370" width="18" height="24" fill="#73a600"/>
<rect x="359" y="394" width="18" height="112" fill="#68a300"/>
<rect x="359" y="506" width="18" height="8" fill="#519b00"/>
<rect x="359" y="514" width="18" height="8" fill="#459700"/>
<rect x="359" y="522" width="18" height="8" fill="#3a9300"/>
<rect x="359" y="530" width="18" height="8" fill="#2e8f00"/>
<rect x="359" y="538" width="18" height="8" fill="#178800"/>
<rect x="359" y="546" width="18" height="8" fill="#078200"/>
<rect x="359" y="554" width="18" height="8" fill="#007809"/>
<rect x="359" y="562" width="18" height="8" fill="#00691a"/>
<rect x="359" y="570" width="18" height="8" fill="#006123"/>
<rect x="359" y="578" width="18" height="8" fill="#005a2c"/>
<rect x="359" y="586" width="18" height="8" fill="#005235"/>
<rect x="359" y="594" width="18" height="8" fill="#004a3d"/>
<rect x="359" y="602" width="18" height="8" fill="#004346"/>
<rect x="359" y="610" width="18" height="16" fill="#003b4f"/>
<rect x="359" y="626" width="18" height="8" fill="#003358"/>
<rect x="359" y="634" width="18" height="8" fill="#002c60"/>
<rect x="359" y="642" width="18" height="8" fill="#002469"/>
<rect x="359" y="650" width="18" height="8" fill="#001c72"/>
<rect x="359" y="658" width="18" height="8" fill="#00147b"/>
<rect x="359" y="666" width="18" height="8" fill="#000d83"/>
<rect x="359" y="674" width="18" height="8" fill="#00058c"/>
<rect x="359" y="682" width="18" height="8" fill="#000191"/>
<rect x="359" y="690" width="18" height="128" fill="#100012"/>
<rect x="377" y="170" width="18" height="8" fill="#1d0072"/>
<rect x="377" y="178" width="18" height="8" fill="#1b0074"/>
<rect x="377" y="186" width="18" height="8" fill="#190077"/>
<rect x="377" y="194" width="18" height="8" fill="#170079"/>
<rect x="377" y="202" width="18" height="8" fill="#15007b"/>
<rect x="377" y="210" width="18" height="8" fill="#12007e"/>
<rect x="377" y="218" width="18" height="8" fill="#100081"/>
<rect x="377" y="226" width="18" height="8" fill="#0d0084"/>
<rect x="377" y="234" width="18" height="8" fill="#090088"/>
<rect x="377" y="242" width="18" height="8" fill="#05008c"/>
<rect x="377" y="250" width="18" height="8" fill="#000191"/>
<rect x="377" y="258" width="18" height="8" fill="#000889"/>
<rect x="377" y="266" width="18" height="8" fill="#001877"/>
<rect x="377" y="274" width="18" height="8" fill="#002c60"/>
<rect x="377" y="282" width="18" height="8" fill="#003b4f"/>
<rect x="377" y="290" width="18" height="8" fill="#005235"/>
<rect x="377" y="298" width="18" height="8" fill="#006123"/>
<rect x="377" y="306" width="18" height="8" fill="#008000"/>
<rect x="377" y="314" width="18" height="8" fill="#3a9300"/>
<rect x="377" y="322" width="18" height="8" fill="#68a300"/>
<rect x="377" y="330" width="18" height="8" fill="#96b200"/>
<rect x="377" y="338" width="18" height="8" fill="#b8bd00"/>
<rect x="377" y="346" width="18" height="8" fill="#c1aa00"/>
<rect x="377" y="354" width="18" height="8" fill="#c29600"/>
<rect x="377" y="362" width="18" height="24" fill="#c38d00"/>
<rect x="377" y="386" width="18" height="8" fill="#c2a000"/>
<rect x="377" y="394" width="18" height="8" fill="#c1b300"/>
<rect x="377" y="402" width="18" height="8" fill="#c0bd00"/>
<rect x="377" y="410" width="18" height="72" fill="#b8bd00"/>
<rect x="377" y="482" width="18" height="8" fill="#c0bd00"/>
<rect x="377" y="490" width="18" height="16" fill="#c1b300"/>
<rect x="377" y="506" width="18" height="8" fill="#c0bd00"/>
<rect x="377" y="514" width="18" height="8" fill="#b8bd00"/>
<rect x="377" y="522" width="18" height="8" fill="#a1b600"/>
<rect x="377" y="530" width="18" height="8" fill="#8aae00"/>
<rect x="377" y="538" width="18" height="8" fill="#73a600"/>
<rect x="377" y="546" width="18" height="8" fill="#5c9f00"/>
<rect x="377" y="554" width="18" height="8" fill="#459700"/>
<rect x="377" y="562" width="18" height="8" fill="#2e8f00"/>
<rect x="377" y="570" width="18" height="8" fill="#178800"/>
<rect x="377" y="578" width="18" height="8" fill="#058200"/>
<rect x="377" y="586" width="18" height="8" fill="#007809"/>
<rect x="377" y="594" width="18" height="8" fill="#00691a"/>
<rect x="377" y="602" width="18" height="8" fill="#006123"/>
<rect x="377" y="610" width="18" height="8" fill="#005a2c"/>
<rect x="377" y="618" width="18" height="16" fill="#005235"/>
<rect x="377" y="634" width="18" height="8" fill="#004a3d"/>
<rect x="377" y="642" width="18" height="8" fill="#004346"/>
<rect x="377" y="650" width="18" height="8" fill="#003b4f"/>
<rect x="377" y="658" width="18" height="8" fill="#003358"/>
<rect x="377" y="666" width="18" height="8" fill="#002c60"/>
<rect x="377" y="674" width="18" height="8" fill="#002469"/>
<rect x="377" y="682" width="18" height="8" fill="#00147b"/>
<rect x="377" y="690" width="18" height="128" fill="#100012"/>
<rect x="395" y="170" width="18" height="8" fill="#190077"/>
<rect x="395" y="178" width="18" height="8" fill="#170079"/>
<rect x="395" y="186" width="18" height="8" fill="#15007b"/>
<rect x="395" y="194" width="18" height="8" fill="#13007d"/>
<rect x="395" y="202" width="18" height="8" fill="#11007f"/>
<rect x="395" y="210" width="18" height="8" fill="#0d0084"/>
<rect x="395" y="218" width="18" height="8" fill="#090088"/>
<rect x="395" y="226" width="18" height="8" fill="#05008c"/>
<rect x="395" y="234" width="18" height="8" fill="#03008f"/>
<rect x="395" y="242" width="18" height="8" fill="#000191"/>
<rect x="395" y="250" width="18" height="8" fill="#000d83"/>
<rect x="395" y="258" width="18" height="8" fill="#001c72"/>
<rect x="395" y="266" width="18" height="8" fill="#003358"/>
<rect x="395" y="274" width="18" height="8" fill="#004a3d"/>
<rect x="395" y="282" width="18" height="8" fill="#006123"/>
<rect x="395" y="290" width="18" height="8" fill="#008000"/>
<rect x="395" y="298" width="18" height="8" fill="#2e8f00"/>
<rect x="395" y="306" width="18" height="8" fill="#68a300"/>
<rect x="395" y="314" width="18" height="8" fill="#a1b600"/>
<rect x="395" y="322" width="18" height="8" fill="#c2a000"/>
<rect x="395" y="330" width="18" height="8" fill="#c47000"/>
<rect x="395" y="338" width="18" height="8" fill="#c55300"/>
<rect x="395" y="346" width="18" height="24" fill="#c64000"/>
<rect x="395" y="370" width="18" height="8" fill="#c64a00"/>
<rect x="395" y="378" width="18" height="8" fill="#c55d00"/>
<rect x="395" y="386" width="18" height="8" fill="#c47000"/>
<rect x="395" y="394" width="18" height="8" fill="#c47a00"/>
<rect x="395" y="402" width="18" height="8" fill="#c38300"/>
<rect x="395" y="410" width="18" height="64" fill="#c38d00"/>
<rect x="395" y="474" width="18" height="8" fill="#c38300"/>
<rect x="395" y="482" width="18" height="8" fill="#c47a00"/>
<rect x="395" y="490" width="18" height="8" fill="#c47000"/>
<rect x="395" y="498" width="18" height="16" fill="#c46600"/>
<rect x="395" y="514" width="18" height="8" fill="#c47000"/>
<rect x="395" y="522" width="18" height="8" fill="#c47a00"/>
<rect x="395" y="530" width="18" height="8" fill="#c38300"/>
<rect x="395" y="538" width="18" height="8" fill="#c29600"/>
<rect x="395" y="546" width="18" height="8" fill="#c1aa00"/>
<rect x="395" y="554" width="18" height="8" fill="#b8bd00"/>
<rect x="395" y="562" width="18" height="8" fill="#96b200"/>
<rect x="395" y="570" width="18" height="8" fill="#73a600"/>
<rect x="395" y="578" width="18" height="8" fill="#5c9f00"/>
<rect x="395" y="586" width="18" height="8" fill="#459700"/>
<rect x="395" y="594" width="18" height="8" fill="#2e8f00"/>
<rect x="395" y="602" width="18" height="8" fill="#178800"/>
<rect x="395" y="610" width="18" height="8" fill="#0c8400"/>
<rect x="395" y="618" width="18" height="8" fill="#008000"/>
<rect x="395" y="626" width="18" height="8" fill="#007809"/>
<rect x="395" y="634" width="18" height="8" fill="#007112"/>
<rect x="395" y="642" width="18" height="8" fill="#006123"/>
<rect x="395" y="650" width="18" height="8" fill="#005a2c"/>
<rect x="395" y="658" width="18" height="8" fill="#005235"/>
<rect x="395" y="666" width="18" height="8" fill="#004a3d"/>
<rect x="395" y="674" width="18" height="8" fill="#004346"/>
<rect x="395" y="682" width="18" height="8" fill="#003358"/>
<rect x="395" y="690" width="18" height="8" fill="#001c72"/>
<rect x="395" y="698" width="18" height="120" fill="#100012"/>
<rect x="413" y="170" width="18" height="8" fill="#15007b"/>
<rect x="413" y="178" width="18" height="8" fill="#13007d"/>
<rect x="413" y="186" width="18" height="8" fill="#11007f"/>
<rect x="413" y="194" width="18" height="8" fill="#0f0081"/>
<rect x="413" y="202" width="18" height="8" fill="#0d0084"/>
<rect x="413" y="210" width="18" height="8" fill="#090088"/>
<rect x="413" y="218" width="18" height="8" fill="#05008c"/>
<rect x="413" y="226" width="18" height="8" fill="#03008f"/>
<rect x="413" y="234" width="18" height="8" fill="#000191"/>
<rect x="413" y="242" width="18" height="8" fill="#000d83"/>
<rect x="413" y="250" width="18" height="8" fill="#002469"/>
<rect x="413" y="258" width="18" height="8" fill="#003358"/>
<rect x="413" y="266" width="18" height="8" fill="#004a3d"/>
<rect x="413" y="274" width="18" height="8" fill="#006123"/>
<rect x="413" y="282" width="18" height="8" fill="#007809"/>
<rect x="413" y="290" width="18" height="8" fill="#3a9300"/>
<rect x="413" y="298" width="18" height="8" fill="#73a600"/>
<rect x="413" y="306" width="18" height="8" fill="#c1b300"/>
<rect x="413" y="314" width="18" height="8" fill="#c46600"/>
<rect x="413" y="322" width="18" height="8" fill="#c82300"/>
<rect x="413" y="330" width="18" height="56" fill="#d71700"/>
<rect x="413" y="386" width="18" height="8" fill="#ca1f00"/>
<rect x="413" y="394" width="18" height="8" fill="#c72d00"/>
<rect x="413" y="402" width="18" height="8" fill="#c64000"/>
<rect x="413" y="410" width="18" height="56" fill="#c64a00"/>
<rect x="413" y="466" width="18" height="8" fill="#c64000"/>
<rect x="413" y="474" width="18" height="8" fill="#c73600"/>
<rect x="413" y="482" width="18" height="8" fill="#c72d00"/>
<rect x="413" y="490" width="18" height="8" fill="#c82300"/>
<rect x="413" y="498" width="18" height="40" fill="#d11b00"/>
<rect x="413" y="538" width="18" height="8" fill="#cd1d00"/>
<rect x="413" y="546" width="18" height="8" fill="#ca1f00"/>
<rect x="413" y="554" width="18" height="8" fill="#c64000"/>
<rect x="413" y="562" width="18" height="8" fill="#c47000"/>
<rect x="413" y="570" width="18" height="8" fill="#c38d00"/>
<rect x="413" y="578" width="18" height="8" fill="#c1b300"/>
<rect x="413" y="586" width="18" height="8" fill="#a1b600"/>
<rect x="413" y="594" width="18" height="8" fill="#7faa00"/>
<rect x="413" y="602" width="18" height="8" fill="#5c9f00"/>
<rect x="413" y="610" width="18" height="8" fill="#3a9300"/>
<rect x="413" y="618" width="18" height="8" fill="#2e8f00"/>
<rect x="413" y="626" width="18" height="8" fill="#238c00"/>
<rect x="413" y="634" width="18" height="8" fill="#0c8400"/>
<rect x="413" y="642" width="18" height="8" fill="#008000"/>
<rect x="413" y="650" width="18" height="8" fill="#007809"/>
<rect x="413" y="658" width="18" height="8" fill="#007112"/>
<rect x="413" y="666" width="18" height="8" fill="#006123"/>
<rect x="413" y="674" width="18" height="8" fill="#005a2c"/>
<rect x="413" y="682" width="18" height="8" fill="#005235"/>
<rect x="413" y="690" width="18" height="8" fill="#003b4f"/>
<rect x="413" y="698" width="18" height="120" fill="#100012"/>
<rect x="431" y="170" width="18" height="8" fill="#11007f"/>
<rect x="431" y="178" width="18" height="8" fill="#0f0082"/>
<rect x="431" y="186" width="18" height="8" fill="#0c0085"/>
<rect x="431" y="194" width="18" height="8" fill="#090088"/>
<rect x="431" y="202" width="18" height="8" fill="#04008d"/>
<rect x="431" y="210" width="18" height="8" fill="#000191"/>
<rect x="431" y="218" width="18" height="8" fill="#00058c"/>
<rect x="431" y="226" width="18" height="8" fill="#000a87"/>
<rect x="431" y="234" width="18" height="8" fill="#00147b"/>
<rect x="431" y="242" width="18" height="8" fill="#002469"/>
<rect x="431" y="250" width="18" height="8" fill="#003358"/>
<rect x="431" y="258" width="18" height="8" fill="#004346"/>
<rect x="431" y="266" width="18" height="8" fill="#005235"/>
<rect x="431" y="274" width="18" height="8" fill="#00691a"/>
<rect x="431" y="282" width="18" height="8" fill="#0c8400"/>
<rect x="431" y="290" width="18" height="8" fill="#68a300"/>
<rect x="431" y="298" width="18" height="8" fill="#b8bd00"/>
<rect x="431" y="306" width="18" height="8" fill="#c47000"/>
<rect x="431" y="314" width="18" height="8" fill="#c82300"/>
<rect x="431" y="322" width="18" height="8" fill="#e50f00"/>
<rect x="431" y="330" width="18" height="8" fill="#f20800"/>
<rect x="431" y="338" width="18" height="48" fill="#f50600"/>
<rect x="431" y="386" width="18" height="8" fill="#eb0c00"/>
<rect x="431" y="394" width="18" height="104" fill="#de1300"/>
<rect x="431" y="498" width="18" height="56" fill="#f20800"/>
<rect x="431" y="554" width="18" height="8" fill="#eb0c00"/>
<rect x="431" y="562" width="18" height="8" fill="#e50f00"/>
<rect x="431" y="570" width="18" height="8" fill="#db1500"/>
<rect x="431" y="578" width="18" height="8" fill="#cd1d00"/>
<rect x="431" y="586" width="18" height="8" fill="#c64a00"/>
<rect x="431" y="594" width="18" height="8" fill="#c38d00"/>
<rect x="431" y="602" width="18" height="8" fill="#c0bd00"/>
<rect x="431" y="610" width="18" height="8" fill="#adba00"/>
<rect x="431" y="618" width="18" height="8" fill="#7faa00"/>
<rect x="431" y="626" width="18" height="8" fill="#5c9f00"/>
<rect x="431" y="634" width="18" height="8" fill="#3a9300"/>
<rect x="431" y="642" width="18" height="8" fill="#2e8f00"/>
<rect x="431" y="650" width="18" height="8" fill="#0c8400"/>
<rect x="431" y="658" width="18" height="8" fill="#008000"/>
<rect x="431" y="666" width="18" height="8" fill="#007809"/>
<rect x="431" y="674" width="18" height="8" fill="#007112"/>
<rect x="431" y="682" width="18" height="8" fill="#006123"/>
<rect x="431" y="690" width="18" height="8" fill="#005235"/>
<rect x="431" y="698" width="18" height="8" fill="#004346"/>
<rect x="431" y="706" width="18" height="112" fill="#100012"/>
<rect x="449" y="170" width="18" height="8" fill="#0d0084"/>
<rect x="449" y="178" width="18" height="8" fill="#0b0086"/>
<rect x="449" y="186" width="18" height="8" fill="#080089"/>
<rect x="449" y="194" width="18" height="8" fill="#05008c"/>
<rect x="449" y="202" width="18" height="8" fill="#03008f"/>
<rect x="449" y="210" width="18" height="8" fill="#000191"/>
<rect x="449" y="218" width="18" height="8" fill="#000a87"/>
<rect x="449" y="226" width="18" height="8" fill="#00147b"/>
<rect x="449" y="234" width="18" height="8" fill="#001c72"/>
<rect x="449" y="242" width="18" height="8" fill="#002c60"/>
<rect x="449" y="250" width="18" height="8" fill="#003b4f"/>
<rect x="449" y="258" width="18" height="8" fill="#004346"/>
<rect x="449" y="266" width="18" height="8" fill="#005235"/>
<rect x="449" y="274" width="18" height="8" fill="#007112"/>
<rect x="449" y="282" width="18" height="8" fill="#238c00"/>
<rect x="449" y="290" width="18" height="8" fill="#73a600"/>
<rect x="449" y="298" width="18" height="8" fill="#c0bd00"/>
<rect x="449" y="306" width="18" height="8" fill="#c47000"/>
<rect x="449" y="314" width="18" height="8" fill="#ca1f00"/>
<rect x="449" y="322" width="18" height="8" fill="#eb0c00"/>
<rect x="449" y="330" width="18" height="8" fill="#ff0000"/>
<rect x="449" y="338" width="18" height="8" fill="#ff2626"/>
<rect x="449" y="346" width="18" height="8" fill="#ff4c4c"/>
<rect x="449" y="354" width="18" height="8" fill="#ff5959"/>
<rect x="449" y="362" width="18" height="16" fill="#ff4c4c"/>
<rect x="449" y="378" width="18" height="8" fill="#ff3333"/>
<rect x="449" y="386" width="18" height="8" fill="#ff2626"/>
<rect x="449" y="394" width="18" height="8" fill="#ff0d0d"/>
<rect x="449" y="402" width="18" height="40" fill="#ff0000"/>
<rect x="449" y="442" width="18" height="56" fill="#f50600"/>
<rect x="449" y="498" width="18" height="16" fill="#ff0000"/>
<rect x="449" y="514" width="18" height="8" fill="#ff2626"/>
<rect x="449" y="522" width="18" height="8" fill="#ff3333"/>
<rect x="449" y="530" width="18" height="8" fill="#ff4c4c"/>
<rect x="449" y="538" width="18" height="8" fill="#ff6666"/>
<rect x="449" y="546" width="18" height="8" fill="#ff7373"/>
<rect x="449" y="554" width="18" height="8" fill="#ff8080"/>
<rect x="449" y="562" width="18" height="8" fill="#ff7373"/>
<rect x="449" y="570" width="18" height="8" fill="#ff4c4c"/>
<rect x="449" y="578" width="18" height="8" fill="#ff2626"/>
<rect x="449" y="586" width="18" height="8" fill="#fc0200"/>
<rect x="449" y="594" width="18" height="8" fill="#e50f00"/>
<rect x="449" y="602" width="18" height="8" fill="#ca1f00"/>
<rect x="449" y="610" width="18" height="8" fill="#c46600"/>
<rect x="449" y="618" width="18" height="8" fill="#c2a000"/>
<rect x="449" y="626" width="18" height="8" fill="#b8bd00"/>
<rect x="449" y="634" width="18" height="8" fill="#7faa00"/>
<rect x="449" y="642" width="18" height="8" fill="#519b00"/>
<rect x="449" y="650" width="18" height="8" fill="#2e8f00"/>
<rect x="449" y="658" width="18" height="8" fill="#178800"/>
<rect x="449" y="666" width="18" height="8" fill="#008000"/>
<rect x="449" y="674" width="18" height="8" fill="#007809"/>
<rect x="449" y="682" width="18" height="8" fill="#00691a"/>
<rect x="449" y="690" width="18" height="8" fill="#005a2c"/>
<rect x="449" y="698" width="18" height="8" fill="#004a3d"/>
<rect x="449" y="706" width="18" height="8" fill="#003b4f"/>
<rect x="449" y="714" width="18" height="104" fill="#100012"/>
<rect x="467" y="178" width="18" height="8" fill="#05008c"/>
<rect x="467" y="186" width="18" height="8" fill="#03008f"/>
<rect x="467" y="194" width="18" height="8" fill="#000191"/>
<rect x="467" y="202" width="18" height="8" fill="#00058c"/>
<rect x="467" y="210" width="18" height="8" fill="#000a87"/>
<rect x="467" y="218" width="18" height="8" fill="#00147b"/>
<rect x="467" y="226" width="18" height="8" fill="#001c72"/>
<rect x="467" y="234" width="18" height="8" fill="#002469"/>
<rect x="467" y="242" width="18" height="8" fill="#002c60"/>
<rect x="467" y="250" width="18" height="8" fill="#003b4f"/>
<rect x="467" y="258" width="18" height="8" fill="#004346"/>
<rect x="467" y="266" width="18" height="8" fill="#005235"/>
<rect x="467" y="274" width="18" height="8" fill="#00691a"/>
<rect x="467" y="282" width="18" height="8" fill="#0c8400"/>
<rect x="467" y="290" width="18" height="8" fill="#459700"/>
<rect x="467" y="298" width="18" height="8" fill="#96b200"/>
<rect x="467" y="306" width="18" height="8" fill="#c29600"/>
<rect x="467" y="314" width="18" height="8" fill="#c64000"/>
<rect x="467" y="322" width="18" height="8" fill="#e50f00"/>
<rect x="467" y="330" width="18" height="8" fill="#ff0000"/>
<rect x="467" y="338" width="18" height="8" fill="#ff3333"/>
<rect x="467" y="346" width="18" height="8" fill="#ff8c8c"/>
<rect x="467" y="354" width="18" height="8" fill="#ffbfbf"/>
<rect x="467" y="362" width="18" height="8" fill="#ffd9d9"/>
<rect x="467" y="370" width="18" height="16" fill="#ffcccc"/>
<rect x="467" y="386" width="18" height="8" fill="#ffb2b2"/>
<rect x="467" y="394" width="18" height="8" fill="#ffa6a6"/>
<rect x="467" y="402" width="18" height="8" fill="#ff9999"/>
<rect x="467" y="410" width="18" height="8" fill="#ff8c8c"/>
<rect x="467" y="418" width="18" height="8" fill="#ff8080"/>
<rect x="467" y="426" width="18" height="8" fill="#ff7373"/>
<rect x="467" y="434" width="18" height="8" fill="#ff6666"/>
<rect x="467" y="442" width="18" height="8" fill="#ff5959"/>
<rect x="467" y="450" width="18" height="48" fill="#ff4c4c"/>
<rect x="467" y="498" width="18" height="8" fill="#ff4040"/>
<rect x="467" y="506" width="18" height="8" fill="#ff4c4c"/>
<rect x="467" y="514" width="18" height="8" fill="#ff6666"/>
<rect x="467" y="522" width="18" height="8" fill="#ff7373"/>
<rect x="467" y="530" width="18" height="8" fill="#ff8c8c"/>
<rect x="467" y="538" width="18" height="8" fill="#ff9999"/>
<rect x="467" y="546" width="18" height="8" fill="#ffb2b2"/>
<rect x="467" y="554" width="18" height="8" fill="#ffcccc"/>
<rect x="467" y="562" width="18" height="16" fill="#fff2f2"/>
<rect x="467" y="578" width="18" height="8" fill="#ffe6e6"/>
<rect x="467" y="586" width="18" height="8" fill="#ffbfbf"/>
<rect x="467" y="594" width="18" height="8" fill="#ff8080"/>
<rect x="467" y="602" width="18" height="8" fill="#ff2626"/>
<rect x="467" y="610" width="18" height="8" fill="#f20800"/>
<rect x="467" y="618" width="18" height="8" fill="#d11b00"/>
<rect x="467" y="626" width="18" height="8" fill="#c46600"/>
<rect x="467" y="634" width="18" height="8" fill="#c1aa00"/>
<rect x="467" y="642" width="18" height="8" fill="#8aae00"/>
<rect x="467" y="650" width="18" height="8" fill="#519b00"/>
<rect x="467" y="658" width="18" height="8" fill="#2e8f00"/>
<rect x="467" y="666" width="18" height="8" fill="#0c8400"/>
<rect x="467" y="674" width="18" height="8" fill="#007809"/>
<rect x="467" y="682" width="18" height="8" fill="#00691a"/>
<rect x="467" y="690" width="18" height="8" fill="#005a2c"/>
<rect x="467" y="698" width="18" height="8" fill="#004a3d"/>
<rect x="467" y="706" width="18" height="8" fill="#003b4f"/>
<rect x="467" y="714" width="18" height="8" fill="#002c60"/>
<rect x="467" y="722" width="18" height="8" fill="#002469"/>
<rect x="467" y="730" width="18" height="88" fill="#100012"/>
<rect x="485" y="194" width="18" height="8" fill="#00058c"/>
<rect x="485" y="202" width="18" height="8" fill="#000988"/>
<rect x="485" y="210" width="18" height="8" fill="#000d83"/>
<rect x="485" y="218" width="18" height="8" fill="#00147b"/>
<rect x="485" y="226" width="18" height="8" fill="#001c72"/>
<rect x="485" y="234" width="18" height="8" fill="#002469"/>
<rect x="485" y="242" width="18" height="8" fill="#002c60"/>
<rect x="485" y="250" width="18" height="8" fill="#003358"/>
<rect x="485" y="258" width="18" height="8" fill="#004346"/>
<rect x="485" y="266" width="18" height="8" fill="#004a3d"/>
<rect x="485" y="274" width="18" height="8" fill="#006123"/>
<rect x="485" y="282" width="18" height="8" fill="#007809"/>
<rect x="485" y="290" width="18" height="8" fill="#2e8f00"/>
<rect x="485" y="298" width="18" height="8" fill="#68a300"/>
<rect x="485" y="306" width="18" height="8" fill="#a1b600"/>
<rect x="485" y="314" width="18" height="8" fill="#c29600"/>
<rect x="485" y="322" width="18" height="8" fill="#c64000"/>
<rect x="485" y="330" width="18" height="8" fill="#d71700"/>
<rect x="485" y="338" width="18" height="8" fill="#fc0200"/>
<rect x="485" y="346" width="18" height="8" fill="#ff4c4c"/>
<rect x="485" y="354" width="18" height="8" fill="#ffb2b2"/>
<rect x="485" y="362" width="18" height="8" fill="#fff2f2"/>
<rect x="485" y="370" width="18" height="64" fill="#fff5f5"/>
<rect x="485" y="434" width="18" height="8" fill="#ffe6e6"/>
<rect x="485" y="442" width="18" height="8" fill="#ffd9d9"/>
<rect x="485" y="450" width="18" height="8" fill="#ffcccc"/>
<rect x="485" y="458" width="18" height="8" fill="#ffbfbf"/>
<rect x="485" y="466" width="18" height="8" fill="#ffb2b2"/>
<rect x="485" y="474" width="18" height="8" fill="#ffa6a6"/>
<rect x="485" y="482" width="18" height="8" fill="#ff9999"/>
<rect x="485" y="490" width="18" height="40" fill="#ff8c8c"/>
<rect x="485" y="530" width="18" height="8" fill="#ff9999"/>
<rect x="485" y="538" width="18" height="8" fill="#ffa6a6"/>
<rect x="485" y="546" width="18" height="8" fill="#ffbfbf"/>
<rect x="485" y="554" width="18" height="8" fill="#ffcccc"/>
<rect x="485" y="562" width="18" height="8" fill="#ffe6e6"/>
<rect x="485" y="570" width="18" height="32" fill="#fff5f5"/>
<rect x="485" y="602" width="18" height="8" fill="#ffcccc"/>
<rect x="485" y="610" width="18" height="8" fill="#ff7373"/>
<rect x="485" y="618" width="18" height="8" fill="#ff0000"/>
<rect x="485" y="626" width="18" height="8" fill="#e50f00"/>
<rect x="485" y="634" width="18" height="8" fill="#c64000"/>
<rect x="485" y="642" width="18" height="8" fill="#c2a000"/>
<rect x="485" y="650" width="18" height="8" fill="#96b200"/>
<rect x="485" y="658" width="18" height="8" fill="#459700"/>
<rect x="485" y="666" width="18" height="8" fill="#178800"/>
<rect x="485" y="674" width="18" height="8" fill="#007809"/>
<rect x="485" y="682" width="18" height="8" fill="#006123"/>
<rect x="485" y="690" width="18" height="8" fill="#005235"/>
<rect x="485" y="698" width="18" height="8" fill="#004346"/>
<rect x="485" y="706" width="18" height="8" fill="#002c60"/>
<rect x="485" y="714" width="18" height="8" fill="#001c72"/>
<rect x="485" y="722" width="18" height="8" fill="#00147b"/>
<rect x="485" y="730" width="18" height="8" fill="#000d83"/>
<rect x="485" y="738" width="18" height="80" fill="#100012"/>
<rect x="503" y="202" width="18" height="16" fill="#00058c"/>
<rect x="503" y="218" width="18" height="8" fill="#000d83"/>
<rect x="503" y="226" width="18" height="8" fill="#00147b"/>
<rect x="503" y="234" width="18" height="8" fill="#001c72"/>
<rect x="503" y="242" width="18" height="8" fill="#002469"/>
<rect x="503" y="250" width="18" height="8" fill="#002c60"/>
<rect x="503" y="258" width="18" height="8" fill="#003b4f"/>
<rect x="503" y="266" width="18" height="8" fill="#004346"/>
<rect x="503" y="274" width="18" height="8" fill="#005235"/>
<rect x="503" y="282" width="18" height="8" fill="#00691a"/>
<rect x="503" y="290" width="18" height="8" fill="#008000"/>
<rect x="503" y="298" width="18" height="8" fill="#2e8f00"/>
<rect x="503" y="306" width="18" height="8" fill="#5c9f00"/>
<rect x="503" y="314" width="18" height="8" fill="#8aae00"/>
<rect x="503" y="322" width="18" height="8" fill="#c1b300"/>
<rect x="503" y="330" width="18" height="8" fill="#c47000"/>
<rect x="503" y="338" width="18" height="8" fill="#ca1f00"/>
<rect x="503" y="346" width="18" height="8" fill="#eb0c00"/>
<rect x="503" y="354" width="18" height="8" fill="#ff2626"/>
<rect x="503" y="362" width="18" height="8" fill="#ff9999"/>
<rect x="503" y="370" width="18" height="8" fill="#fff2f2"/>
<rect x="503" y="378" width="18" height="96" fill="#fff5f5"/>
<rect x="503" y="474" width="18" height="8" fill="#fff2f2"/>
<rect x="503" y="482" width="18" height="8" fill="#ffe6e6"/>
<rect x="503" y="490" width="18" height="8" fill="#ffcccc"/>
<rect x="503" y="498" width="18" height="8" fill="#ffbfbf"/>
<rect x="503" y="506" width="18" height="48" fill="#ffa6a6"/>
<rect x="503" y="554" width="18" height="8" fill="#ffb2b2"/>
<rect x="503" y="562" width="18" height="8" fill="#ffcccc"/>
<rect x="503" y="570" width="18" height="8" fill="#ffe6e6"/>
<rect x="503" y="578" width="18" height="24" fill="#fff5f5"/>
<rect x="503" y="602" width="18" height="8" fill="#fff2f2"/>
<rect x="503" y="610" width="18" height="8" fill="#ffbfbf"/>
<rect x="503" y="618" width="18" height="8" fill="#ff6666"/>
<rect x="503" y="626" width="18" height="8" fill="#fc0200"/>
<rect x="503" y="634" width="18" height="8" fill="#d71700"/>
<rect x="503" y="642" width="18" height="8" fill="#c46600"/>
<rect x="503" y="650" width="18" height="8" fill="#b8bd00"/>
<rect x="503" y="658" width="18" height="8" fill="#5c9f00"/>
<rect x="503" y="666" width="18" height="8" fill="#238c00"/>
<rect x="503" y="674" width="18" height="8" fill="#007809"/>
<rect x="503" y="682" width="18" height="8" fill="#005a2c"/>
<rect x="503" y="690" width="18" height="8" fill="#004a3d"/>
<rect x="503" y="698" width="18" height="8" fill="#003358"/>
<rect x="503" y="706" width="18" height="8" fill="#001c72"/>
<rect x="503" y="714" width="18" height="16" fill="#000d83"/>
<rect x="503" y="730" width="18" height="16" fill="#00058c"/>
<rect x="503" y="746" width="18" height="8" fill="#000191"/>
<rect x="503" y="754" width="18" height="64" fill="#100012"/>
<rect x="521" y="218" width="18" height="8" fill="#00058c"/>
<rect x="521" y="226" width="18" height="8" fill="#000d83"/>
<rect x="521" y="234" width="18" height="8" fill="#00147b"/>
<rect x="521" y="242" width="18" height="8" fill="#001c72"/>
<rect x="521" y="250" width="18" height="8" fill="#002469"/>
<rect x="521" y="258" width="18" height="8" fill="#003358"/>
<rect x="521" y="266" width="18" height="8" fill="#003b4f"/>
<rect x="521" y="274" width="18" height="8" fill="#004a3d"/>
<rect x="521" y="282" width="18" height="8" fill="#006123"/>
<rect x="521" y="290" width="18" height="8" fill="#007809"/>
<rect x="521" y="298" width="18" height="8" fill="#0c8400"/>
<rect x="521" y="306" width="18" height="8" fill="#2e8f00"/>
<rect x="521" y="314" width="18" height="8" fill="#519b00"/>
<rect x="521" y="322" width="18" height="8" fill="#73a600"/>
<rect x="521" y="330" width="18" height="8" fill="#adba00"/>
<rect x="521" y="338" width="18" height="8" fill="#c2a000"/>
<rect x="521" y="346" width="18" height="8" fill="#c46600"/>
<rect x="521" y="354" width="18" height="8" fill="#d11b00"/>
<rect x="521" y="362" width="18" height="8" fill="#f20800"/>
<rect x="521" y="370" width="18" height="8" fill="#ff4040"/>
<rect x="521" y="378" width="18" height="8" fill="#ffa6a6"/>
<rect x="521" y="386" width="18" height="96" fill="#fff5f5"/>
<rect x="521" y="482" width="18" height="8" fill="#fff2f2"/>
<rect x="521" y="490" width="18" height="8" fill="#ffd9d9"/>
<rect x="521" y="498" width="18" height="8" fill="#ffb2b2"/>
<rect x="521" y="506" width="18" height="8" fill="#ff9999"/>
<rect x="521" y="514" width="18" height="8" fill="#ff8c8c"/>
<rect x="521" y="522" width="18" height="8" fill="#ff8080"/>
<rect x="521" y="530" width="18" height="24" fill="#ff7373"/>
<rect x="521" y="554" width="18" height="16" fill="#ff6666"/>
<rect x="521" y="570" width="18" height="8" fill="#ff8c8c"/>
<rect x="521" y="578" width="18" height="8" fill="#ff9999"/>
<rect x="521" y="586" width="18" height="24" fill="#ffa6a6"/>
<rect x="521" y="610" width="18" height="8" fill="#ff8c8c"/>
<rect x="521" y="618" width="18" height="8" fill="#ff4c4c"/>
<rect x="521" y="626" width="18" height="8" fill="#fc0200"/>
<rect x="521" y="634" width="18" height="8" fill="#d71700"/>
<rect x="521" y="642" width="18" height="8" fill="#c55d00"/>
<rect x="521" y="650" width="18" height="8" fill="#c1b300"/>
<rect x="521" y="658" width="18" height="8" fill="#73a600"/>
<rect x="521" y="666" width="18" height="8" fill="#238c00"/>
<rect x="521" y="674" width="18" height="8" fill="#007809"/>
<rect x="521" y="682" width="18" height="8" fill="#005a2c"/>
<rect x="521" y="690" width="18" height="8" fill="#004a3d"/>
<rect x="521" y="698" width="18" height="8" fill="#003358"/>
<rect x="521" y="706" width="18" height="8" fill="#001c72"/>
<rect x="521" y="714" width="18" height="16" fill="#000d83"/>
<rect x="521" y="730" width="18" height="16" fill="#000290"/>
<rect x="521" y="746" width="18" height="24" fill="#000191"/>
<rect x="521" y="770" width="18" height="48" fill="#100012"/>
<rect x="539" y="234" width="18" height="8" fill="#00058c"/>
<rect x="539" y="242" width="18" height="8" fill="#000d83"/>
<rect x="539" y="250" width="18" height="8" fill="#00147b"/>
<rect x="539" y="258" width="18" height="8" fill="#002469"/>
<rect x="539" y="266" width="18" height="8" fill="#003358"/>
<rect x="539" y="274" width="18" height="8" fill="#003b4f"/>
<rect x="539" y="282" width="18" height="8" fill="#004a3d"/>
<rect x="539" y="290" width="18" height="8" fill="#006123"/>
<rect x="539" y="298" width="18" height="8" fill="#007112"/>
<rect x="539" y="306" width="18" height="8" fill="#008000"/>
<rect x="539" y="314" width="18" height="8" fill="#238c00"/>
<rect x="539" y="322" width="18" height="8" fill="#3a9300"/>
<rect x="539" y="330" width="18" height="8" fill="#5c9f00"/>
<rect x="539" y="338" width="18" height="8" fill="#73a600"/>
<rect x="539" y="346" width="18" height="8" fill="#a1b600"/>
<rect x="539" y="354" width="18" height="8" fill="#c1b300"/>
<rect x="539" y="362" width="18" height="8" fill="#c47000"/>
<rect x="539" y="370" width="18" height="8" fill="#ca1f00"/>
<rect x="539" y="378" width="18" height="8" fill="#eb0c00"/>
<rect x="539" y="386" width="18" height="8" fill="#ff3333"/>
<rect x="539" y="394" width="18" height="8" fill="#ffa6a6"/>
<rect x="539" y="402" width="18" height="72" fill="#fff5f5"/>
<rect x="539" y="474" width="18" height="8" fill="#ffe6e6"/>
<rect x="539" y="482" width="18" height="8" fill="#ffbfbf"/>
<rect x="539" y="490" width="18" height="8" fill="#ffa6a6"/>
<rect x="539" y="498" width="18" height="8" fill="#ff7373"/>
<rect x="539" y="506" width="18" height="8" fill="#ff4c4c"/>
<rect x="539" y="514" width="18" height="8" fill="#ff4040"/>
<rect x="539" y="522" width="18" height="8" fill="#ff3333"/>
<rect x="539" y="530" width="18" height="8" fill="#ff2626"/>
<rect x="539" y="538" width="18" height="8" fill="#ff0d0d"/>
<rect x="539" y="546" width="18" height="24" fill="#ff0000"/>
<rect x="539" y="570" width="18" height="8" fill="#ff1a1a"/>
<rect x="539" y="578" width="18" height="16" fill="#ff2626"/>
<rect x="539" y="594" width="18" height="8" fill="#ff3333"/>
<rect x="539" y="602" width="18" height="16" fill="#ff2626"/>
<rect x="539" y="618" width="18" height="8" fill="#ff0000"/>
<rect x="539" y="626" width="18" height="8" fill="#f20800"/>
<rect x="539" y="634" width="18" height="8" fill="#d71700"/>
<rect x="539" y="642" width="18" height="8" fill="#c55d00"/>
<rect x="539" y="650" width="18" height="8" fill="#c1b300"/>
<rect x="539" y="658" width="18" height="8" fill="#73a600"/>
<rect x="539" y="666" width="18" height="8" fill="#2e8f00"/>
<rect x="539" y="674" width="18" height="8" fill="#008000"/>
<rect x="539" y="682" width="18" height="8" fill="#006123"/>
<rect x="539" y="690" width="18" height="8" fill="#004a3d"/>
<rect x="539" y="698" width="18" height="8" fill="#003b4f"/>
<rect x="539" y="706" width="18" height="8" fill="#002469"/>
<rect x="539" y="714" width="18" height="16" fill="#00147b"/>
<rect x="539" y="730" width="18" height="16" fill="#000889"/>
<rect x="539" y="746" width="18" height="16" fill="#00078a"/>
<rect x="539" y="762" width="18" height="8" fill="#00068b"/>
<rect x="539" y="770" width="18" height="8" fill="#00068c"/>
<rect x="539" y="778" width="18" height="8" fill="#00058c"/>
<rect x="539" y="786" width="18" height="32" fill="#100012"/>
<rect x="557" y="250" width="18" height="8" fill="#010091"/>
<rect x="557" y="258" width="18" height="8" fill="#00058c"/>
<rect x="557" y="266" width="18" height="8" fill="#000d83"/>
<rect x="557" y="274" width="18" height="8" fill="#001c72"/>
<rect x="557" y="282" width="18" height="8" fill="#003358"/>
<rect x="557" y="290" width="18" height="8" fill="#003b4f"/>
<rect x="557" y="298" width="18" height="8" fill="#004a3d"/>
<rect x="557" y="306" width="18" height="8" fill="#005a2c"/>
<rect x="557" y="314" width="18" height="8" fill="#00691a"/>
<rect x="557" y="322" width="18" height="8" fill="#007809"/>
<rect x="557" y="330" width="18" height="8" fill="#008000"/>
<rect x="557" y="338" width="18" height="8" fill="#0c8400"/>
<rect x="557" y="346" width="18" height="8" fill="#2e8f00"/>
<rect x="557" y="354" width="18" height="8" fill="#519b00"/>
<rect x="557" y="362" width="18" height="8" fill="#73a600"/>
<rect x="557" y="370" width="18" height="8" fill="#a1b600"/>
<rect x="557" y="378" width="18" height="8" fill="#c29600"/>
<rect x="557" y="386" width="18" height="8" fill="#c64a00"/>
<rect x="557" y="394" width="18" height="8" fill="#d71700"/>
<rect x="557" y="402" width="18" height="8" fill="#fc0200"/>
<rect x="557" y="410" width="18" height="8" fill="#ff4040"/>
<rect x="557" y="418" width="18" height="8" fill="#ff9999"/>
<rect x="557" y="426" width="18" height="8" fill="#ffcccc"/>
<rect x="557" y="434" width="18" height="16" fill="#ffe6e6"/>
<rect x="557" y="450" width="18" height="8" fill="#ffcccc"/>
<rect x="557" y="458" width="18" height="8" fill="#ffb2b2"/>
<rect x="557" y="466" width="18" height="8" fill="#ff8c8c"/>
<rect x="557" y="474" width="18" height="8" fill="#ff6666"/>
<rect x="557" y="482" width="18" height="8" fill="#ff4c4c"/>
<rect x="557" y="490" width="18" height="8" fill="#ff2626"/>
<rect x="557" y="498" width="18" height="8" fill="#ff0000"/>
<rect x="557" y="506" width="18" height="8" fill="#f50600"/>
<rect x="557" y="514" width="18" height="112" fill="#e50f00"/>
<rect x="557" y="626" width="18" height="8" fill="#db1500"/>
<rect x="557" y="634" width="18" height="8" fill="#c82300"/>
<rect x="557" y="642" width="18" height="8" fill="#c47000"/>
<rect x="557" y="650" width="18" height="8" fill="#c0bd00"/>
<rect x="557" y="658" width="18" height="8" fill="#73a600"/>
<rect x="557" y="666" width="18" height="8" fill="#3a9300"/>
<rect x="557" y="674" width="18" height="8" fill="#078200"/>
<rect x="557" y="682" width="18" height="8" fill="#007112"/>
<rect x="557" y="690" width="18" height="8" fill="#005a2c"/>
<rect x="557" y="698" width="18" height="8" fill="#004a3d"/>
<rect x="557" y="706" width="18" height="8" fill="#003b4f"/>
<rect x="557" y="714" width="18" height="8" fill="#003358"/>
<rect x="557" y="722" width="18" height="8" fill="#002c60"/>
<rect x="557" y="730" width="18" height="8" fill="#002469"/>
<rect x="557" y="738" width="18" height="56" fill="#001c72"/>
<rect x="557" y="794" width="18" height="8" fill="#00147b"/>
<rect x="557" y="802" width="18" height="16" fill="#100012"/>
<rect x="575" y="266" width="18" height="8" fill="#00058c"/>
<rect x="575" y="274" width="18" height="8" fill="#00147b"/>
<rect x="575" y="282" width="18" height="8" fill="#001c72"/>
<rect x="575" y="290" width="18" height="8" fill="#002c60"/>
<rect x="575" y="298" width="18" height="8" fill="#003358"/>
<rect x="575" y="306" width="18" height="8" fill="#003b4f"/>
<rect x="575" y="314" width="18" height="8" fill="#004346"/>
<rect x="575" y="322" width="18" height="8" fill="#004a3d"/>
<rect x="575" y="330" width="18" height="8" fill="#005235"/>
<rect x="575" y="338" width="18" height="8" fill="#005a2c"/>
<rect x="575" y="346" width="18" height="8" fill="#00691a"/>
<rect x="575" y="354" width="18" height="8" fill="#007809"/>
<rect x="575" y="362" width="18" height="8" fill="#008000"/>
<rect x="575" y="370" width="18" height="8" fill="#178800"/>
<rect x="575" y="378" width="18" height="8" fill="#2e8f00"/>
<rect x="575" y="386" width="18" height="8" fill="#3a9300"/>
<rect x="575" y="394" width="18" height="8" fill="#7faa00"/>
<rect x="575" y="402" width="18" height="8" fill="#c0bd00"/>
<rect x="575" y="410" width="18" height="8" fill="#c47000"/>
<rect x="575" y="418" width="18" height="8" fill="#cd1d00"/>
<rect x="575" y="426" width="18" height="8" fill="#f50600"/>
<rect x="575" y="434" width="18" height="40" fill="#ff0000"/>
<rect x="575" y="474" width="18" height="24" fill="#f50600"/>
<rect x="575" y="498" width="18" height="8" fill="#e50f00"/>
<rect x="575" y="506" width="18" height="8" fill="#de1300"/>
<rect x="575" y="514" width="18" height="8" fill="#d71700"/>
<rect x="575" y="522" width="18" height="8" fill="#d41900"/>
<rect x="575" y="530" width="18" height="8" fill="#cd1d00"/>
<rect x="575" y="538" width="18" height="8" fill="#c82300"/>
<rect x="575" y="546" width="18" height="8" fill="#c73600"/>
<rect x="575" y="554" width="18" height="16" fill="#c64000"/>
<rect x="575" y="570" width="18" height="8" fill="#c73600"/>
<rect x="575" y="578" width="18" height="8" fill="#c72d00"/>
<rect x="575" y="586" width="18" height="8" fill="#ca1f00"/>
<rect x="575" y="594" width="18" height="8" fill="#cd1d00"/>
<rect x="575" y="602" width="18" height="8" fill="#d11b00"/>
<rect x="575" y="610" width="18" height="8" fill="#cd1d00"/>
<rect x="575" y="618" width="18" height="8" fill="#ca1f00"/>
<rect x="575" y="626" width="18" height="8" fill="#c73600"/>
<rect x="575" y="634" width="18" height="8" fill="#c46600"/>
<rect x="575" y="642" width="18" height="8" fill="#c38d00"/>
<rect x="575" y="650" width="18" height="8" fill="#b8bd00"/>
<rect x="575" y="658" width="18" height="8" fill="#7faa00"/>
<rect x="575" y="666" width="18" height="8" fill="#3a9300"/>
<rect x="575" y="674" width="18" height="8" fill="#078200"/>
<rect x="575" y="682" width="18" height="8" fill="#007809"/>
<rect x="575" y="690" width="18" height="8" fill="#006123"/>
<rect x="575" y="698" width="18" height="8" fill="#005235"/>
<rect x="575" y="706" width="18" height="8" fill="#004a3d"/>
<rect x="575" y="714" width="18" height="16" fill="#003b4f"/>
<rect x="575" y="730" width="18" height="8" fill="#003a50"/>
<rect x="575" y="738" width="18" height="8" fill="#003950"/>
<rect x="575" y="746" width="18" height="8" fill="#003951"/>
<rect x="575" y="754" width="18" height="8" fill="#003852"/>
<rect x="575" y="762" width="18" height="8" fill="#003753"/>
<rect x="575" y="770" width="18" height="8" fill="#003754"/>
<rect x="575" y="778" width="18" height="8" fill="#003654"/>
<rect x="575" y="786" width="18" height="8" fill="#003555"/>
<rect x="575" y="794" width="18" height="8" fill="#003556"/>
<rect x="575" y="802" width="18" height="8" fill="#003457"/>
<rect x="575" y="810" width="18" height="8" fill="#003358"/>
<rect x="593" y="282" width="18" height="8" fill="#11007f"/>
<rect x="593" y="290" width="18" height="8" fill="#05008c"/>
<rect x="593" y="298" width="18" height="24" fill="#000191"/>
<rect x="593" y="322" width="18" height="8" fill="#00058c"/>
<rect x="593" y="330" width="18" height="16" fill="#000d83"/>
<rect x="593" y="346" width="18" height="16" fill="#00147b"/>
<rect x="593" y="362" width="18" height="8" fill="#001c72"/>
<rect x="593" y="370" width="18" height="8" fill="#002469"/>
<rect x="593" y="378" width="18" height="16" fill="#002c60"/>
<rect x="593" y="394" width="18" height="8" fill="#004a3d"/>
<rect x="593" y="402" width="18" height="8" fill="#00691a"/>
<rect x="593" y="410" width="18" height="8" fill="#0c8400"/>
<rect x="593" y="418" width="18" height="8" fill="#3a9300"/>
<rect x="593" y="426" width="18" height="8" fill="#8aae00"/>
<rect x="593" y="434" width="18" height="8" fill="#c0bd00"/>
<rect x="593" y="442" width="18" height="8" fill="#c38d00"/>
<rect x="593" y="450" width="18" height="8" fill="#c47000"/>
<rect x="593" y="458" width="18" height="8" fill="#c55d00"/>
<rect x="593" y="466" width="18" height="8" fill="#c55300"/>
<rect x="593" y="474" width="18" height="8" fill="#c55d00"/>
<rect x="593" y="482" width="18" height="8" fill="#c46600"/>
<rect x="593" y="490" width="18" height="8" fill="#c47000"/>
<rect x="593" y="498" width="18" height="8" fill="#c38300"/>
<rect x="593" y="506" width="18" height="8" fill="#c38d00"/>
<rect x="593" y="514" width="18" height="8" fill="#c2a000"/>
<rect x="593" y="522" width="18" height="8" fill="#c1b300"/>
<rect x="593" y="530" width="18" height="48" fill="#c0bd00"/>
<rect x="593" y="578" width="18" height="8" fill="#c1b300"/>
<rect x="593" y="586" width="18" height="8" fill="#c2a000"/>
<rect x="593" y="594" width="18" height="8" fill="#c29600"/>
<rect x="593" y="602" width="18" height="8" fill="#c38d00"/>
<rect x="593" y="610" width="18" height="8" fill="#c38300"/>
<rect x="593" y="618" width="18" height="24" fill="#c38d00"/>
<rect x="593" y="642" width="18" height="8" fill="#c2a000"/>
<rect x="593" y="650" width="18" height="8" fill="#b8bd00"/>
<rect x="593" y="658" width="18" height="8" fill="#8aae00"/>
<rect x="593" y="666" width="18" height="8" fill="#519b00"/>
<rect x="593" y="674" width="18" height="8" fill="#178800"/>
<rect x="593" y="682" width="18" height="8" fill="#008000"/>
<rect x="593" y="690" width="18" height="8" fill="#00691a"/>
<rect x="593" y="698" width="18" height="8" fill="#005a2c"/>
<rect x="593" y="706" width="18" height="8" fill="#005235"/>
<rect x="593" y="714" width="18" height="72" fill="#004a3d"/>
<rect x="593" y="786" width="18" height="24" fill="#005a2c"/>
<rect x="593" y="810" width="18" height="8" fill="#004a3d"/>
<rect x="611" y="290" width="18" height="8" fill="#2d0061"/>
<rect x="611" y="298" width="18" height="8" fill="#25006a"/>
<rect x="611" y="306" width="18" height="8" fill="#1d0072"/>
<rect x="611" y="314" width="18" height="8" fill="#1d0073"/>
<rect x="611" y="322" width="18" height="8" fill="#1c0073"/>
<rect x="611" y="330" width="18" height="8" fill="#1c0074"/>
<rect x="611" y="338" width="18" height="8" fill="#1b0074"/>
<rect x="611" y="346" width="18" height="8" fill="#1b0075"/>
<rect x="611" y="354" width="18" height="8" fill="#1a0075"/>
<rect x="611" y="362" width="18" height="16" fill="#1a0076"/>
<rect x="611" y="378" width="18" height="8" fill="#190077"/>
<rect x="611" y="386" width="18" height="8" fill="#11007f"/>
<rect x="611" y="394" width="18" height="8" fill="#090088"/>
<rect x="611" y="402" width="18" height="24" fill="#000191"/>
<rect x="611" y="426" width="18" height="8" fill="#001c72"/>
<rect x="611" y="434" width="18" height="8" fill="#004a3d"/>
<rect x="611" y="442" width="18" height="8" fill="#0c8400"/>
<rect x="611" y="450" width="18" height="8" fill="#3a9300"/>
<rect x="611" y="458" width="18" height="8" fill="#73a600"/>
<rect x="611" y="466" width="18" height="8" fill="#96b200"/>
<rect x="611" y="474" width="18" height="8" fill="#a1b600"/>
<rect x="611" y="482" width="18" height="16" fill="#adba00"/>
<rect x="611" y="498" width="18" height="8" fill="#a1b600"/>
<rect x="611" y="506" width="18" height="8" fill="#8aae00"/>
<rect x="611" y="514" width="18" height="8" fill="#7faa00"/>
<rect x="611" y="522" width="18" height="8" fill="#73a600"/>
<rect x="611" y="530" width="18" height="48" fill="#5c9f00"/>
<rect x="611" y="578" width="18" height="8" fill="#68a300"/>
<rect x="611" y="586" width="18" height="8" fill="#7faa00"/>
<rect x="611" y="594" width="18" height="8" fill="#8aae00"/>
<rect x="611" y="602" width="18" height="8" fill="#a1b600"/>
<rect x="611" y="610" width="18" height="8" fill="#adba00"/>
<rect x="611" y="618" width="18" height="8" fill="#b8bd00"/>
<rect x="611" y="626" width="18" height="8" fill="#c1b300"/>
<rect x="611" y="634" width="18" height="24" fill="#c1aa00"/>
<rect x="611" y="658" width="18" height="8" fill="#b8bd00"/>
<rect x="611" y="666" width="18" height="8" fill="#a1b600"/>
<rect x="611" y="674" width="18" height="8" fill="#73a600"/>
<rect x="611" y="682" width="18" height="8" fill="#3a9300"/>
<rect x="611" y="690" width="18" height="8" fill="#0c8400"/>
<rect x="611" y="698" width="18" height="8" fill="#007809"/>
<rect x="611" y="706" width="18" height="8" fill="#006123"/>
<rect x="611" y="714" width="18" height="8" fill="#005235"/>
<rect x="611" y="722" width="18" height="96" fill="#004346"/>
<rect x="629" y="298" width="18" height="96" fill="#41004b"/>
<rect x="629" y="394" width="18" height="24" fill="#390054"/>
<rect x="629" y="418" width="18" height="8" fill="#2d0061"/>
<rect x="629" y="426" width="18" height="8" fill="#1d0072"/>
<rect x="629" y="434" width="18" height="8" fill="#090088"/>
<rect x="629" y="442" width="18" height="8" fill="#000191"/>
<rect x="629" y="450" width="18" height="8" fill="#001c72"/>
<rect x="629" y="458" width="18" height="8" fill="#005a2c"/>
<rect x="629" y="466" width="18" height="8" fill="#0c8400"/>
<rect x="629" y="474" width="18" height="8" fill="#2e8f00"/>
<rect x="629" y="482" width="18" height="8" fill="#459700"/>
<rect x="629" y="490" width="18" height="8" fill="#519b00"/>
<rect x="629" y="498" width="18" height="24" fill="#459700"/>
<rect x="629" y="522" width="18" height="8" fill="#3a9300"/>
<rect x="629" y="530" width="18" height="48" fill="#2e8f00"/>
<rect x="629" y="578" width="18" height="16" fill="#3a9300"/>
<rect x="629" y="594" width="18" height="8" fill="#459700"/>
<rect x="629" y="602" width="18" height="8" fill="#5c9f00"/>
<rect x="629" y="610" width="18" height="8" fill="#73a600"/>
<rect x="629" y="618" width="18" height="8" fill="#8aae00"/>
<rect x="629" y="626" width="18" height="8" fill="#a1b600"/>
<rect x="629" y="634" width="18" height="8" fill="#b8bd00"/>
<rect x="629" y="642" width="18" height="8" fill="#c1b300"/>
<rect x="629" y="650" width="18" height="8" fill="#c1aa00"/>
<rect x="629" y="658" width="18" height="8" fill="#c2a000"/>
<rect x="629" y="666" width="18" height="8" fill="#c1b300"/>
<rect x="629" y="674" width="18" height="8" fill="#b8bd00"/>
<rect x="629" y="682" width="18" height="8" fill="#a1b600"/>
<rect x="629" y="690" width="18" height="8" fill="#73a600"/>
<rect x="629" y="698" width="18" height="8" fill="#2e8f00"/>
<rect x="629" y="706" width="18" height="8" fill="#078200"/>
<rect x="629" y="714" width="18" height="16" fill="#00691a"/>
<rect x="629" y="730" width="18" height="8" fill="#004a3d"/>
<rect x="629" y="738" width="18" height="80" fill="#003358"/>
<rect x="647" y="298" width="18" height="88" fill="#33003a"/>
<rect x="647" y="386" width="18" height="40" fill="#3b0043"/>
<rect x="647" y="426" width="18" height="8" fill="#390054"/>
<rect x="647" y="434" width="18" height="8" fill="#2d0061"/>
<rect x="647" y="442" width="18" height="8" fill="#1d0072"/>
<rect x="647" y="450" width="18" height="8" fill="#090088"/>
<rect x="647" y="458" width="18" height="8" fill="#000d83"/>
<rect x="647" y="466" width="18" height="8" fill="#004346"/>
<rect x="647" y="474" width="18" height="8" fill="#00691a"/>
<rect x="647" y="482" width="18" height="8" fill="#078200"/>
<rect x="647" y="490" width="18" height="32" fill="#2e8f00"/>
<rect x="647" y="522" width="18" height="16" fill="#238c00"/>
<rect x="647" y="538" width="18" height="56" fill="#0c8400"/>
<rect x="647" y="594" width="18" height="8" fill="#238c00"/>
<rect x="647" y="602" width="18" height="8" fill="#2e8f00"/>
<rect x="647" y="610" width="18" height="8" fill="#3a9300"/>
<rect x="647" y="618" width="18" height="8" fill="#519b00"/>
<rect x="647" y="626" width="18" height="8" fill="#73a600"/>
<rect x="647" y="634" width="18" height="8" fill="#96b200"/>
<rect x="647" y="642" width="18" height="8" fill="#b8bd00"/>
<rect x="647" y="650" width="18" height="8" fill="#c1b300"/>
<rect x="647" y="658" width="18" height="16" fill="#c2a000"/>
<rect x="647" y="674" width="18" height="8" fill="#c1b300"/>
<rect x="647" y="682" width="18" height="8" fill="#b8bd00"/>
<rect x="647" y="690" width="18" height="8" fill="#8aae00"/>
<rect x="647" y="698" width="18" height="8" fill="#519b00"/>
<rect x="647" y="706" width="18" height="8" fill="#238c00"/>
<rect x="647" y="714" width="18" height="8" fill="#078200"/>
<rect x="647" y="722" width="18" height="8" fill="#00691a"/>
<rect x="647" y="730" width="18" height="8" fill="#004346"/>
<rect x="647" y="738" width="18" height="8" fill="#002c60"/>
<rect x="647" y="746" width="18" height="8" fill="#002469"/>
<rect x="647" y="754" width="18" height="64" fill="#00147b"/>
<rect x="665" y="290" width="18" height="96" fill="#28002c"/>
<rect x="665" y="386" width="18" height="40" fill="#33003a"/>
<rect x="665" y="426" width="18" height="8" fill="#3f0047"/>
<rect x="665" y="434" width="18" height="8" fill="#390054"/>
<rect x="665" y="442" width="18" height="8" fill="#2d0061"/>
<rect x="665" y="450" width="18" height="8" fill="#15007b"/>
<rect x="665" y="458" width="18" height="8" fill="#000191"/>
<rect x="665" y="466" width="18" height="8" fill="#002469"/>
<rect x="665" y="474" width="18" height="8" fill="#005235"/>
<rect x="665" y="482" width="18" height="8" fill="#007809"/>
<rect x="665" y="490" width="18" height="8" fill="#078200"/>
<rect x="665" y="498" width="18" height="8" fill="#178800"/>
<rect x="665" y="506" width="18" height="32" fill="#238c00"/>
<rect x="665" y="538" width="18" height="56" fill="#0c8400"/>
<rect x="665" y="594" width="18" height="16" fill="#178800"/>
<rect x="665" y="610" width="18" height="8" fill="#3a9300"/>
<rect x="665" y="618" width="18" height="8" fill="#519b00"/>
<rect x="665" y="626" width="18" height="8" fill="#73a600"/>
<rect x="665" y="634" width="18" height="8" fill="#96b200"/>
<rect x="665" y="642" width="18" height="8" fill="#adba00"/>
<rect x="665" y="650" width="18" height="8" fill="#b8bd00"/>
<rect x="665" y="658" width="18" height="16" fill="#c0bd00"/>
<rect x="665" y="674" width="18" height="8" fill="#b8bd00"/>
<rect x="665" y="682" width="18" height="8" fill="#96b200"/>
<rect x="665" y="690" width="18" height="8" fill="#5c9f00"/>
<rect x="665" y="698" width="18" height="8" fill="#2e8f00"/>
<rect x="665" y="706" width="18" height="8" fill="#058200"/>
<rect x="665" y="714" width="18" height="8" fill="#006123"/>
<rect x="665" y="722" width="18" height="8" fill="#004346"/>
<rect x="665" y="730" width="18" height="8" fill="#001c72"/>
<rect x="665" y="738" width="18" height="8" fill="#000d83"/>
<rect x="665" y="746" width="18" height="72" fill="#000191"/>
<rect x="683" y="282" width="18" height="80" fill="#1c001f"/>
<rect x="683" y="362" width="18" height="8" fill="#200024"/>
<rect x="683" y="370" width="18" height="8" fill="#240028"/>
<rect x="683" y="378" width="18" height="8" fill="#28002c"/>
<rect x="683" y="386" width="18" height="40" fill="#3b0043"/>
<rect x="683" y="426" width="18" height="8" fill="#390054"/>
<rect x="683" y="434" width="18" height="8" fill="#25006a"/>
<rect x="683" y="442" width="18" height="8" fill="#15007b"/>
<rect x="683" y="450" width="18" height="8" fill="#000191"/>
<rect x="683" y="458" width="18" height="8" fill="#001c72"/>
<rect x="683" y="466" width="18" height="8" fill="#003b4f"/>
<rect x="683" y="474" width="18" height="8" fill="#005a2c"/>
<rect x="683" y="482" width="18" height="8" fill="#007809"/>
<rect x="683" y="490" width="18" height="88" fill="#078200"/>
<rect x="683" y="578" width="18" height="16" fill="#178800"/>
<rect x="683" y="594" width="18" height="8" fill="#238c00"/>
<rect x="683" y="602" width="18" height="8" fill="#459700"/>
<rect x="683" y="610" width="18" height="8" fill="#73a600"/>
<rect x="683" y="618" width="18" height="8" fill="#96b200"/>
<rect x="683" y="626" width="18" height="24" fill="#a1b600"/>
<rect x="683" y="650" width="18" height="8" fill="#8aae00"/>
<rect x="683" y="658" width="18" height="8" fill="#73a600"/>
<rect x="683" y="666" width="18" height="8" fill="#3a9300"/>
<rect x="683" y="674" width="18" height="8" fill="#078200"/>
<rect x="683" y="682" width="18" height="8" fill="#006123"/>
<rect x="683" y="690" width="18" height="8" fill="#004346"/>
<rect x="683" y="698" width="18" height="8" fill="#001c72"/>
<rect x="683" y="706" width="18" height="16" fill="#000191"/>
<rect x="683" y="722" width="18" height="8" fill="#11007f"/>
<rect x="683" y="730" width="18" height="8" fill="#12007f"/>
<rect x="683" y="738" width="18" height="16" fill="#12007e"/>
<rect x="683" y="754" width="18" height="8" fill="#13007e"/>
<rect x="683" y="762" width="18" height="16" fill="#13007d"/>
<rect x="683" y="778" width="18" height="8" fill="#14007d"/>
<rect x="683" y="786" width="18" height="16" fill="#14007c"/>
<rect x="683" y="802" width="18" height="16" fill="#15007b"/>
<rect x="701" y="266" width="18" height="24" fill="#18001b"/>
<rect x="701" y="290" width="18" height="16" fill="#19001c"/>
<rect x="701" y="306" width="18" height="24" fill="#1a001d"/>
<rect x="701" y="330" width="18" height="16" fill="#1b001e"/>
<rect x="701" y="346" width="18" height="8" fill="#1b001f"/>
<rect x="701" y="354" width="18" height="8" fill="#1c001f"/>
<rect x="701" y="362" width="18" height="8" fill="#28002c"/>
<rect x="701" y="370" width="18" height="8" fill="#33003a"/>
<rect x="701" y="378" width="18" height="8" fill="#3b0043"/>
<rect x="701" y="386" width="18" height="8" fill="#41004b"/>
<rect x="701" y="394" width="18" height="8" fill="#390054"/>
<rect x="701" y="402" width="18" height="8" fill="#25006a"/>
<rect x="701" y="410" width="18" height="8" fill="#15007b"/>
<rect x="701" y="418" width="18" height="8" fill="#090088"/>
<rect x="701" y="426" width="18" height="8" fill="#000191"/>
<rect x="701" y="434" width="18" height="8" fill="#00147b"/>
<rect x="701" y="442" width="18" height="8" fill="#003358"/>
<rect x="701" y="450" width="18" height="8" fill="#004a3d"/>
<rect x="701" y="458" width="18" height="72" fill="#005a2c"/>
<rect x="701" y="530" width="18" height="8" fill="#00691a"/>
<rect x="701" y="538" width="18" height="16" fill="#008000"/>
<rect x="701" y="554" width="18" height="8" fill="#238c00"/>
<rect x="701" y="562" width="18" height="8" fill="#2e8f00"/>
<rect x="701" y="570" width="18" height="40" fill="#459700"/>
<rect x="701" y="610" width="18" height="8" fill="#3a9300"/>
<rect x="701" y="618" width="18" height="8" fill="#0c8400"/>
<rect x="701" y="626" width="18" height="8" fill="#008000"/>
<rect x="701" y="634" width="18" height="8" fill="#005a2c"/>
<rect x="701" y="642" width="18" height="8" fill="#004346"/>
<rect x="701" y="650" width="18" height="8" fill="#002469"/>
<rect x="701" y="658" width="18" height="8" fill="#000191"/>
<rect x="701" y="666" width="18" height="8" fill="#05008c"/>
<rect x="701" y="674" width="18" height="8" fill="#11007f"/>
<rect x="701" y="682" width="18" height="8" fill="#1d0072"/>
<rect x="701" y="690" width="18" height="8" fill="#25006a"/>
<rect x="701" y="698" width="18" height="8" fill="#280067"/>
<rect x="701" y="706" width="18" height="8" fill="#2a0064"/>
<rect x="701" y="714" width="18" height="8" fill="#2d0061"/>
<rect x="701" y="722" width="18" height="8" fill="#350058"/>
<rect x="701" y="730" width="18" height="88" fill="#41004b"/>
<rect x="719" y="234" width="18" height="8" fill="#140016"/>
<rect x="719" y="242" width="18" height="8" fill="#150017"/>
<rect x="719" y="250" width="18" height="8" fill="#160018"/>
<rect x="719" y="258" width="18" height="8" fill="#17001a"/>
<rect x="719" y="266" width="18" height="8" fill="#18001b"/>
<rect x="719" y="274" width="18" height="8" fill="#1a001d"/>
<rect x="719" y="282" width="18" height="8" fill="#1c001f"/>
<rect x="719" y="290" width="18" height="8" fill="#1d0021"/>
<rect x="719" y="298" width="18" height="8" fill="#1e0022"/>
<rect x="719" y="306" width="18" height="8" fill="#200024"/>
<rect x="719" y="314" width="18" height="8" fill="#220026"/>
<rect x="719" y="322" width="18" height="8" fill="#240028"/>
<rect x="719" y="330" width="18" height="8" fill="#28002c"/>
<rect x="719" y="338" width="18" height="8" fill="#33003a"/>
<rect x="719" y="346" width="18" height="8" fill="#3b0043"/>
<rect x="719" y="354" width="18" height="8" fill="#41004b"/>
<rect x="719" y="362" width="18" height="8" fill="#390054"/>
<rect x="719" y="370" width="18" height="8" fill="#2d0061"/>
<rect x="719" y="378" width="18" height="8" fill="#25006a"/>
<rect x="719" y="386" width="18" height="8" fill="#15007b"/>
<rect x="719" y="394" width="18" height="8" fill="#05008c"/>
<rect x="719" y="402" width="18" height="8" fill="#000d83"/>
<rect x="719" y="410" width="18" height="8" fill="#00147b"/>
<rect x="719" y="418" width="18" height="8" fill="#002c60"/>
<rect x="719" y="426" width="18" height="8" fill="#002c5f"/>
<rect x="719" y="434" width="18" height="8" fill="#002d5e"/>
<rect x="719" y="442" width="18" height="8" fill="#002e5d"/>
<rect x="719" y="450" width="18" height="8" fill="#002f5c"/>
<rect x="719" y="458" width="18" height="8" fill="#00305b"/>
<rect x="719" y="466" width="18" height="8" fill="#00315b"/>
<rect x="719" y="474" width="18" height="8" fill="#00315a"/>
<rect x="719" y="482" width="18" height="8" fill="#003259"/>
<rect x="719" y="490" width="18" height="72" fill="#003358"/>
<rect x="719" y="562" width="18" height="8" fill="#002c60"/>
<rect x="719" y="570" width="18" height="8" fill="#001c72"/>
<rect x="719" y="578" width="18" height="8" fill="#000d83"/>
<rect x="719" y="586" width="18" height="24" fill="#000191"/>
<rect x="719" y="610" width="18" height="24" fill="#1d0072"/>
<rect x="719" y="634" width="18" height="8" fill="#25006a"/>
<rect x="719" y="642" width="18" height="8" fill="#2d0061"/>
<rect x="719" y="650" width="18" height="24" fill="#3d0050"/>
<rect x="719" y="674" width="18" height="8" fill="#3b0043"/>
<rect x="719" y="682" width="18" height="8" fill="#3a0041"/>
<rect x="719" y="690" width="18" height="8" fill="#38003f"/>
<rect x="719" y="698" width="18" height="8" fill="#37003d"/>
<rect x="719" y="706" width="18" height="8" fill="#35003b"/>
<rect x="719" y="714" width="18" height="8" fill="#33003a"/>
<rect x="719" y="722" width="18" height="80" fill="#2c0031"/>
<rect x="719" y="802" width="18" height="16" fill="#040004"/>
<rect x="737" y="210" width="18" height="8" fill="#100012"/>
<rect x="737" y="218" width="18" height="8" fill="#110013"/>
<rect x="737" y="226" width="18" height="8" fill="#120014"/>
<rect x="737" y="234" width="18" height="8" fill="#130015"/>
<rect x="737" y="242" width="18" height="8" fill="#140016"/>
<rect x="737" y="250" width="18" height="8" fill="#160018"/>
<rect x="737" y="258" width="18" height="8" fill="#17001a"/>
<rect x="737" y="266" width="18" height="8" fill="#19001c"/>
<rect x="737" y="274" width="18" height="8" fill="#1d0020"/>
<rect x="737" y="282" width="18" height="8" fill="#200024"/>
<rect x="737" y="290" width="18" height="8" fill="#240028"/>
<rect x="737" y="298" width="18" height="8" fill="#28002c"/>
<rect x="737" y="306" width="18" height="8" fill="#2c0031"/>
<rect x="737" y="314" width="18" height="8" fill="#33003a"/>
<rect x="737" y="322" width="18" height="8" fill="#3f0047"/>
<rect x="737" y="330" width="18" height="8" fill="#390054"/>
<rect x="737" y="338" width="18" height="8" fill="#2d0061"/>
<rect x="737" y="346" width="18" height="8" fill="#21006e"/>
<rect x="737" y="354" width="18" height="8" fill="#190077"/>
<rect x="737" y="362" width="18" height="8" fill="#11007f"/>
<rect x="737" y="370" width="18" height="8" fill="#090088"/>
<rect x="737" y="378" width="18" height="56" fill="#000191"/>
<rect x="737" y="434" width="18" height="8" fill="#090088"/>
<rect x="737" y="442" width="18" height="8" fill="#0a0087"/>
<rect x="737" y="450" width="18" height="8" fill="#0c0085"/>
<rect x="737" y="458" width="18" height="8" fill="#0d0084"/>
<rect x="737" y="466" width="18" height="8" fill="#0e0083"/>
<rect x="737" y="474" width="18" height="8" fill="#0f0082"/>
<rect x="737" y="482" width="18" height="8" fill="#100081"/>
<rect x="737" y="490" width="18" height="8" fill="#11007f"/>
<rect x="737" y="498" width="18" height="24" fill="#1d0072"/>
<rect x="737" y="522" width="18" height="16" fill="#25006a"/>
<rect x="737" y="538" width="18" height="8" fill="#2d0061"/>
<rect x="737" y="546" width="18" height="8" fill="#390054"/>
<rect x="737" y="554" width="18" height="8" fill="#41004b"/>
<rect x="737" y="562" width="18" height="8" fill="#3f0047"/>
<rect x="737" y="570" width="18" height="8" fill="#3b0043"/>
<rect x="737" y="578" width="18" height="8" fill="#37003e"/>
<rect x="737" y="586" width="18" height="8" fill="#35003b"/>
<rect x="737" y="594" width="18" height="8" fill="#320038"/>
<rect x="737" y="602" width="18" height="8" fill="#300035"/>
<rect x="737" y="610" width="18" height="8" fill="#2c0031"/>
<rect x="737" y="618" width="18" height="8" fill="#2b0030"/>
<rect x="737" y="626" width="18" height="8" fill="#2a002f"/>
<rect x="737" y="634" width="18" height="8" fill="#29002e"/>
<rect x="737" y="642" width="18" height="8" fill="#28002d"/>
<rect x="737" y="650" width="18" height="8" fill="#28002c"/>
<rect x="737" y="658" width="18" height="8" fill="#200024"/>
<rect x="737" y="666" width="18" height="8" fill="#1f0023"/>
<rect x="737" y="674" width="18" height="8" fill="#1f0022"/>
<rect x="737" y="682" width="18" height="8" fill="#1e0022"/>
<rect x="737" y="690" width="18" height="8" fill="#1d0021"/>
<rect x="737" y="698" width="18" height="8" fill="#1d0020"/>
<rect x="737" y="706" width="18" height="8" fill="#1c0020"/>
<rect x="737" y="714" width="18" height="8" fill="#1c001f"/>
<rect x="737" y="722" width="18" height="8" fill="#18001b"/>
<rect x="737" y="730" width="18" height="24" fill="#17001a"/>
<rect x="737" y="754" width="18" height="16" fill="#160019"/>
<rect x="737" y="770" width="18" height="48" fill="#040004"/>
<rect x="755" y="194" width="18" height="8" fill="#0a000b"/>
<rect x="755" y="202" width="18" height="8" fill="#0a000c"/>
<rect x="755" y="210" width="18" height="8" fill="#0b000d"/>
<rect x="755" y="218" width="18" height="8" fill="#0c000e"/>
<rect x="755" y="226" width="18" height="8" fill="#0d000f"/>
<rect x="755" y="234" width="18" height="8" fill="#0e0010"/>
<rect x="755" y="242" width="18" height="8" fill="#100012"/>
<rect x="755" y="250" width="18" height="8" fill="#120014"/>
<rect x="755" y="258" width="18" height="8" fill="#140016"/>
<rect x="755" y="266" width="18" height="8" fill="#18001b"/>
<rect x="755" y="274" width="18" height="8" fill="#1c001f"/>
<rect x="755" y="282" width="18" height="8" fill="#200024"/>
<rect x="755" y="290" width="18" height="8" fill="#26002a"/>
<rect x="755" y="298" width="18" height="8" fill="#2c0031"/>
<rect x="755" y="306" width="18" height="8" fill="#33003a"/>
<rect x="755" y="314" width="18" height="8" fill="#3b0043"/>
<rect x="755" y="322" width="18" height="8" fill="#41004b"/>
<rect x="755" y="330" width="18" height="8" fill="#350058"/>
<rect x="755" y="338" width="18" height="8" fill="#25006a"/>
<rect x="755" y="346" width="18" height="64" fill="#1d0072"/>
<rect x="755" y="410" width="18" height="8" fill="#25006a"/>
<rect x="755" y="418" width="18" height="8" fill="#290065"/>
<rect x="755" y="426" width="18" height="8" fill="#2d0061"/>
<rect x="755" y="434" width="18" height="8" fill="#31005d"/>
<rect x="755" y="442" width="18" height="8" fill="#350058"/>
<rect x="755" y="450" width="18" height="8" fill="#390054"/>
<rect x="755" y="458" width="18" height="8" fill="#3d0050"/>
<rect x="755" y="466" width="18" height="8" fill="#3f004e"/>
<rect x="755" y="474" width="18" height="8" fill="#41004b"/>
<rect x="755" y="482" width="18" height="8" fill="#410049"/>
<rect x="755" y="490" width="18" height="8" fill="#3f0047"/>
<rect x="755" y="498" width="18" height="8" fill="#3b0043"/>
<rect x="755" y="506" width="18" height="8" fill="#37003e"/>
<rect x="755" y="514" width="18" height="8" fill="#33003a"/>
<rect x="755" y="522" width="18" height="8" fill="#300035"/>
<rect x="755" y="530" width="18" height="8" fill="#2c0031"/>
<rect x="755" y="538" width="18" height="8" fill="#28002c"/>
<rect x="755" y="546" width="18" height="8" fill="#240028"/>
<rect x="755" y="554" width="18" height="8" fill="#200024"/>
<rect x="755" y="562" width="18" height="8" fill="#1e0022"/>
<rect x="755" y="570" width="18" height="8" fill="#1d0021"/>
<rect x="755" y="578" width="18" height="8" fill="#1c001f"/>
<rect x="755" y="586" width="18" height="8" fill="#1a001e"/>
<rect x="755" y="594" width="18" height="8" fill="#19001c"/>
<rect x="755" y="602" width="18" height="8" fill="#18001b"/>
<rect x="755" y="610" width="18" height="8" fill="#100012"/>
<rect x="755" y="618" width="18" height="8" fill="#0f0011"/>
<rect x="755" y="626" width="18" height="8" fill="#0e0010"/>
<rect x="755" y="634" width="18" height="8" fill="#0d000f"/>
<rect x="755" y="642" width="18" height="8" fill="#0d000e"/>
<rect x="755" y="650" width="18" height="8" fill="#0c000d"/>
<rect x="755" y="658" width="18" height="8" fill="#0b000d"/>
<rect x="755" y="666" width="18" height="8" fill="#0b000c"/>
<rect x="755" y="674" width="18" height="8" fill="#0a000b"/>
<rect x="755" y="682" width="18" height="16" fill="#09000a"/>
<rect x="755" y="698" width="18" height="16" fill="#080009"/>
<rect x="755" y="714" width="18" height="8" fill="#080008"/>
<rect x="755" y="722" width="18" height="8" fill="#070008"/>
<rect x="755" y="730" width="18" height="88" fill="#040004"/>
<rect x="773" y="178" width="18" height="8" fill="#060007"/>
<rect x="773" y="186" width="18" height="8" fill="#070007"/>
<rect x="773" y="194" width="18" height="16" fill="#070008"/>
<rect x="773" y="210" width="18" height="16" fill="#080009"/>
<rect x="773" y="226" width="18" height="8" fill="#0a000b"/>
<rect x="773" y="234" width="18" height="8" fill="#0c000d"/>
<rect x="773" y="242" width="18" height="8" fill="#0e0010"/>
<rect x="773" y="250" width="18" height="8" fill="#100012"/>
<rect x="773" y="258" width="18" height="8" fill="#140016"/>
<rect x="773" y="266" width="18" height="8" fill="#18001b"/>
<rect x="773" y="274" width="18" height="8" fill="#1c001f"/>
<rect x="773" y="282" width="18" height="8" fill="#200024"/>
<rect x="773" y="290" width="18" height="8" fill="#26002a"/>
<rect x="773" y="298" width="18" height="8" fill="#2c0031"/>
<rect x="773" y="306" width="18" height="8" fill="#33003a"/>
<rect x="773" y="314" width="18" height="8" fill="#3b0043"/>
<rect x="773" y="322" width="18" height="8" fill="#41004b"/>
<rect x="773" y="330" width="18" height="8" fill="#3d0050"/>
<rect x="773" y="338" width="18" height="56" fill="#390054"/>
<rect x="773" y="394" width="18" height="8" fill="#3d0050"/>
<rect x="773" y="402" width="18" height="8" fill="#41004b"/>
<rect x="773" y="410" width="18" height="8" fill="#3f0047"/>
<rect x="773" y="418" width="18" height="8" fill="#3d0045"/>
<rect x="773" y="426" width="18" height="8" fill="#3b0043"/>
<rect x="773" y="434" width="18" height="8" fill="#37003e"/>
<rect x="773" y="442" width="18" height="8" fill="#33003a"/>
<rect x="773" y="450" width="18" height="8" fill="#300035"/>
<rect x="773" y="458" width="18" height="8" fill="#2c0031"/>
<rect x="773" y="466" width="18" height="8" fill="#2a002f"/>
<rect x="773" y="474" width="18" height="8" fill="#28002c"/>
<rect x="773" y="482" width="18" height="8" fill="#26002a"/>
<rect x="773" y="490" width="18" height="8" fill="#240028"/>
<rect x="773" y="498" width="18" height="8" fill="#200024"/>
<rect x="773" y="506" width="18" height="8" fill="#1c001f"/>
<rect x="773" y="514" width="18" height="8" fill="#1a001d"/>
<rect x="773" y="522" width="18" height="8" fill="#18001b"/>
<rect x="773" y="530" width="18" height="8" fill="#17001a"/>
<rect x="773" y="538" width="18" height="8" fill="#160018"/>
<rect x="773" y="546" width="18" height="8" fill="#150017"/>
<rect x="773" y="554" width="18" height="8" fill="#140016"/>
<rect x="773" y="562" width="18" height="8" fill="#130015"/>
<rect x="773" y="570" width="18" height="8" fill="#120015"/>
<rect x="773" y="578" width="18" height="8" fill="#120014"/>
<rect x="773" y="586" width="18" height="16" fill="#110013"/>
<rect x="773" y="602" width="18" height="8" fill="#100012"/>
<rect x="773" y="610" width="18" height="24" fill="#080009"/>
<rect x="773" y="634" width="18" height="40" fill="#070008"/>
<rect x="773" y="674" width="18" height="8" fill="#070007"/>
<rect x="773" y="682" width="18" height="40" fill="#060007"/>
<rect x="773" y="722" width="18" height="16" fill="#060006"/>
<rect x="773" y="738" width="18" height="32" fill="#050006"/>
<rect x="773" y="770" width="18" height="16" fill="#050005"/>
<rect x="773" y="786" width="18" height="24" fill="#040005"/>
<rect x="773" y="810" width="18" height="8" fill="#040004"/>
</g>
<path d="M142.85 818.0v-12.5M142.85 170.0v12.5M160.86 818.0v-6.2M160.86 170.0v6.2M178.88 818.0v-6.2M178.88 170.0v6.2M196.89 818.0v-6.2M196.89 170.0v6.2M214.90 818.0v-6.2M214.90 170.0v6.2M232.91 818.0v-12.5M232.91 170.0v12.5M250.93 818.0v-6.2M250.93 170.0v6.2M268.94 818.0v-6.2M268.94 170.0v6.2M286.95 818.0v-6.2M286.95 170.0v6.2M304.96 818.0v-6.2M304.96 170.0v6.2M322.98 818.0v-12.5M322.98 170.0v12.5M340.99 818.0v-6.2M340.99 170.0v6.2M359.00 818.0v-6.2M359.00 170.0v6.2M377.01 818.0v-6.2M377.01 170.0v6.2M395.02 818.0v-6.2M395.02 170.0v6.2M413.04 818.0v-12.5M413.04 170.0v12.5M431.05 818.0v-6.2M431.05 170.0v6.2M449.06 818.0v-6.2M449.06 170.0v6.2M467.08 818.0v-6.2M467.08 170.0v6.2M485.09 818.0v-6.2M485.09 170.0v6.2M503.10 818.0v-12.5M503.10 170.0v12.5M521.11 818.0v-6.2M521.11 170.0v6.2M539.12 818.0v-6.2M539.12 170.0v6.2M557.14 818.0v-6.2M557.14 170.0v6.2M575.15 818.0v-6.2M575.15 170.0v6.2M593.16 818.0v-12.5M593.16 170.0v12.5M611.17 818.0v-6.2M611.17 170.0v6.2M629.19 818.0v-6.2M629.19 170.0v6.2M647.20 818.0v-6.2M647.20 170.0v6.2M665.21 818.0v-6.2M665.21 170.0v6.2M683.23 818.0v-12.5M683.23 170.0v12.5M701.24 818.0v-6.2M701.24 170.0v6.2M719.25 818.0v-6.2M719.25 170.0v6.2M737.26 818.0v-6.2M737.26 170.0v6.2M755.28 818.0v-6.2M755.28 170.0v6.2M773.29 818.0v-12.5M773.29 170.0v12.5M791.30 818.0v-6.2M791.30 170.0v6.2M142.8 818.1h12.5M791.3 818.1h-12.5M142.8 738.1h6.2M791.3 738.1h-6.2M142.8 658.1h12.5M791.3 658.1h-12.5M142.8 578.1h6.2M791.3 578.1h-6.2M142.8 498.1h12.5M791.3 498.1h-12.5M142.8 418.1h6.2M791.3 418.1h-6.2M142.8 338.1h12.5M791.3 338.1h-12.5M142.8 258.1h6.2M791.3 258.1h-6.2M142.8 178.1h12.5M791.3 178.1h-12.5" stroke="#000" stroke-width="1.5" fill="none"/>
<rect x="142.85" y="169.95" width="648.45" height="648.15" fill="none" stroke="#000" stroke-width="1.5"/>
<defs><linearGradient id="cb" x1="0" x2="1" y1="0" y2="0">
<stop offset="0.0000" stop-color="#000000"/>
<stop offset="0.1389" stop-color="#42004a"/>
<stop offset="0.2778" stop-color="#000092"/>
<stop offset="0.4167" stop-color="#008000"/>
<stop offset="0.5555" stop-color="#c0c000"/>
<stop offset="0.6945" stop-color="#c82000"/>
<stop offset="0.8333" stop-color="#ff0000"/>
<stop offset="1.0000" stop-color="#ffffff"/>
</linearGradient></defs>
<rect x="538.7" y="33.6" width="324.4" height="13.7" fill="url(#cb)" stroke="#000" stroke-width="1.2"/>
<path d="M592.8 33.6v3M592.8 47.3v-3M646.8 33.6v3M646.8 47.3v-3M700.9 33.6v3M700.9 47.3v-3M755.0 33.6v3M755.0 47.3v-3M809.0 33.6v3M809.0 47.3v-3" stroke="#000" stroke-width="1.2" fill="none"/>
<text x="538.7" y="81.6" text-anchor="middle">0</text>
<text x="592.8" y="81.6" text-anchor="middle">10</text>
<text x="646.8" y="81.6" text-anchor="middle">20</text>
<text x="700.9" y="81.6" text-anchor="middle">30</text>
<text x="755.0" y="81.6" text-anchor="middle">40</text>
<text x="809.0" y="81.6" text-anchor="middle">50</text>
<text x="863.1" y="81.6" text-anchor="middle">60</text>
<text x="701.5" y="19.5" text-anchor="middle">TEC</text>
<text x="470" y="155.5" text-anchor="middle" xml:space="preserve">PBf20190210  UT: 1.75  mjd: 58524</text>
<text x="129.2" y="184.9" text-anchor="end">40</text>
<text x="129.2" y="344.9" text-anchor="end">20</text>
<text x="129.2" y="504.9" text-anchor="end">0</text>
<text x="129.2" y="664.9" text-anchor="end">-20</text>
<text x="129.2" y="824.9" text-anchor="end">-40</text>
<text x="143.0" y="851.9" text-anchor="middle">0</text>
<text x="233.1" y="851.9" text-anchor="middle">50</text>
<text x="323.1" y="851.9" text-anchor="middle">100</text>
<text x="413.2" y="851.9" text-anchor="middle">150</text>
<text x="503.3" y="851.9" text-anchor="middle">200</text>
<text x="593.3" y="851.9" text-anchor="middle">250</text>
<text x="683.4" y="851.9" text-anchor="middle">300</text>
<text x="773.5" y="851.9" text-anchor="middle">350</text>
<text x="-0.5" y="417.5">Latitude</text>
<text x="467" y="892.4" text-anchor="middle">Longitude</text>
</svg></body></html>
